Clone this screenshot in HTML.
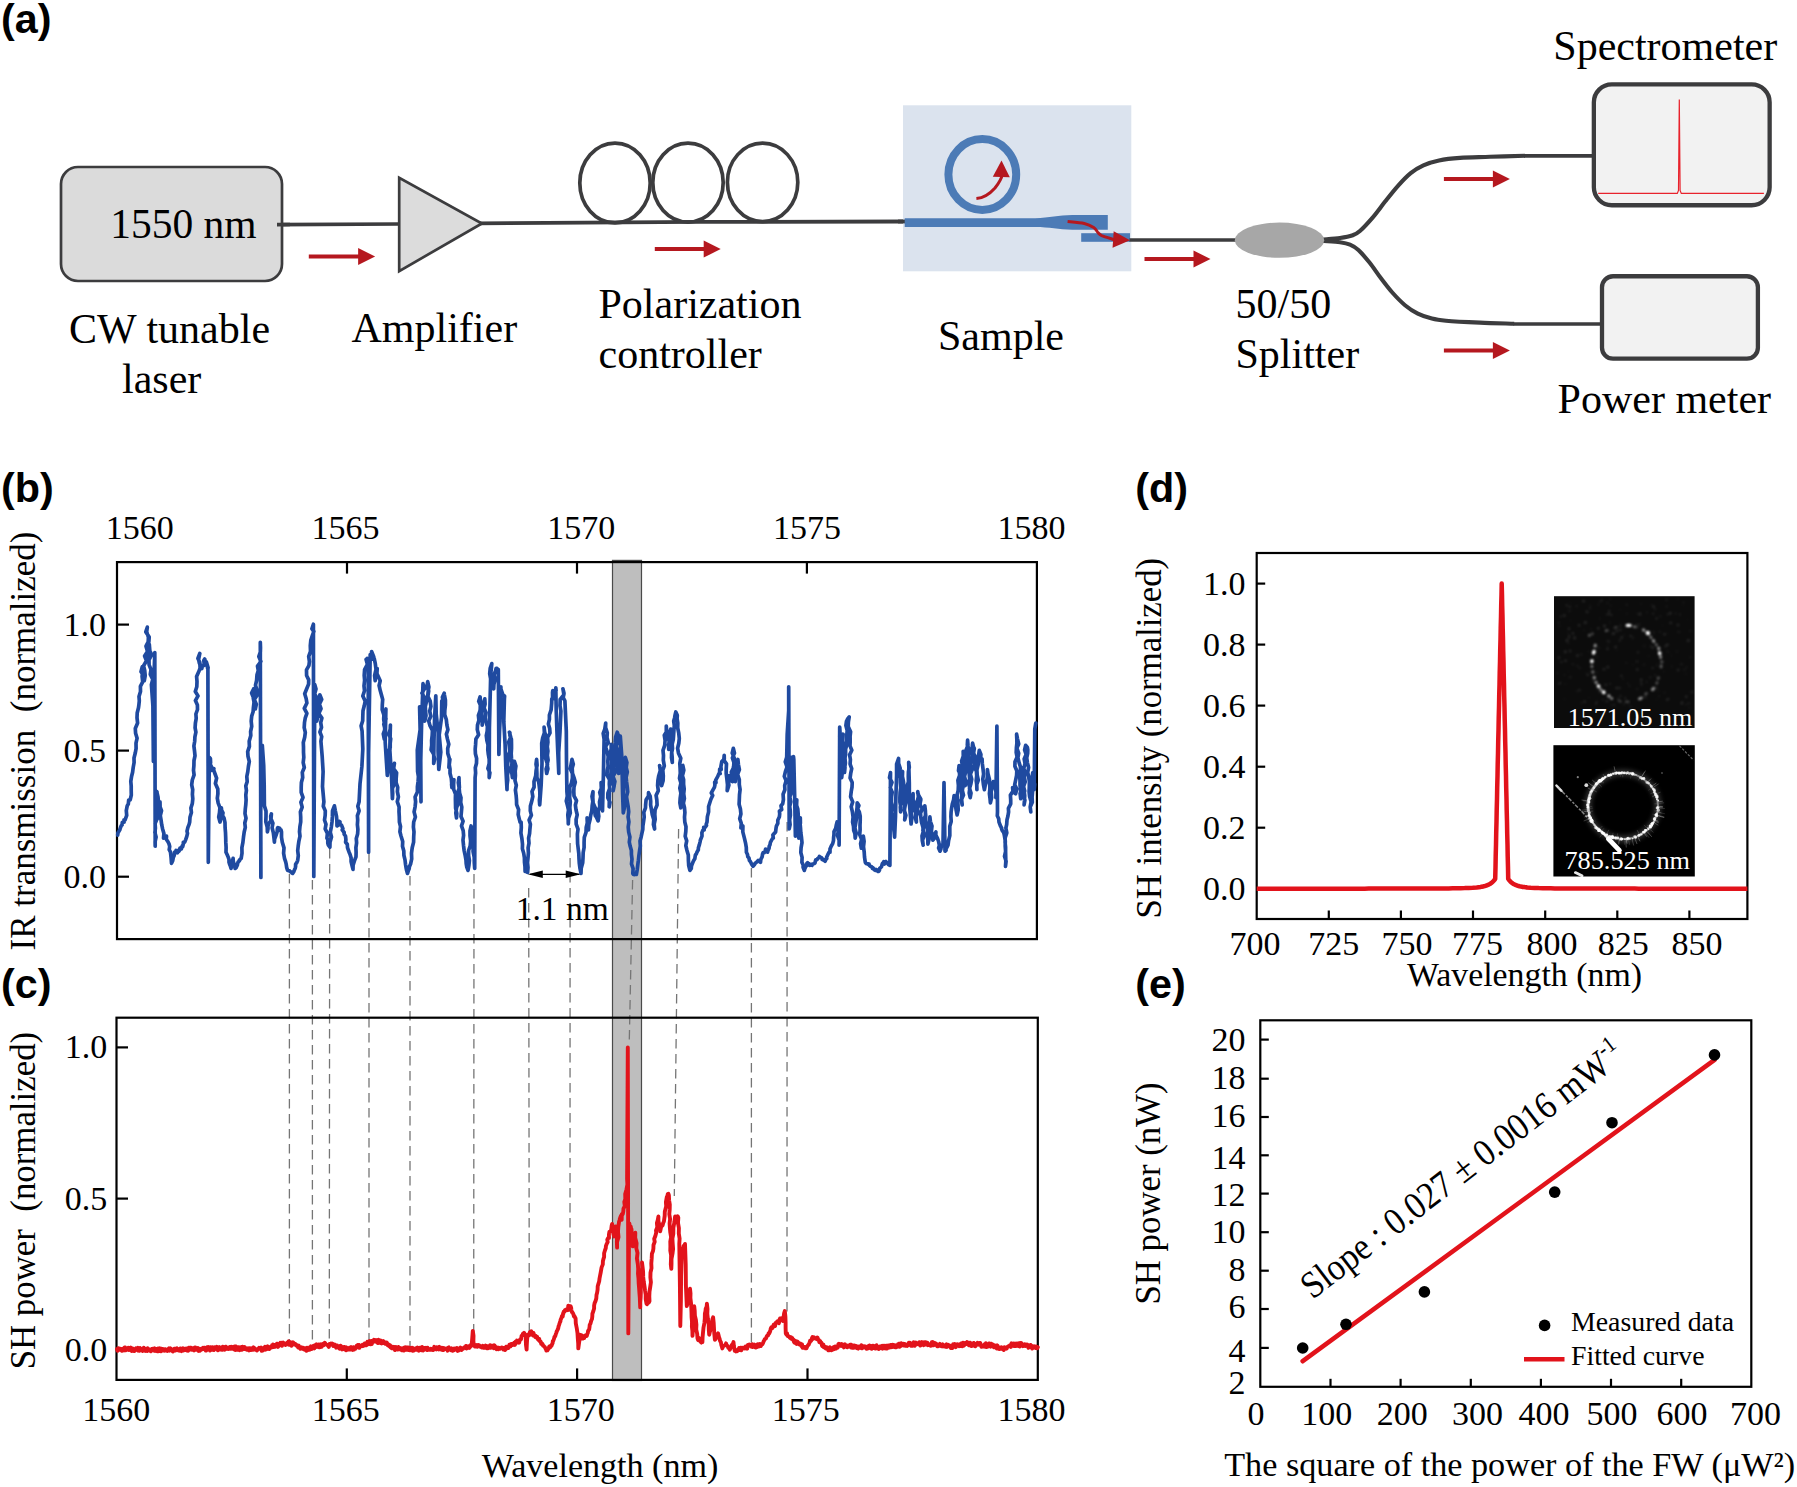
<!DOCTYPE html>
<html><head><meta charset="utf-8"><title>Figure</title>
<style>html,body{margin:0;padding:0;background:#fff}svg{display:block}</style>
</head><body>
<svg width="1797" height="1487" viewBox="0 0 1797 1487">
<rect width="1797" height="1487" fill="#fff"/>
<text x="1.0" y="32.8" font-size="41.3" font-family="Liberation Sans, sans-serif" text-anchor="start" fill="#000" font-weight="bold">(a)</text>
<text x="1.0" y="501.7" font-size="41.3" font-family="Liberation Sans, sans-serif" text-anchor="start" fill="#000" font-weight="bold">(b)</text>
<text x="1.0" y="998" font-size="41.3" font-family="Liberation Sans, sans-serif" text-anchor="start" fill="#000" font-weight="bold">(c)</text>
<text x="1135.3" y="501.7" font-size="41.3" font-family="Liberation Sans, sans-serif" text-anchor="start" fill="#000" font-weight="bold">(d)</text>
<text x="1135.3" y="998" font-size="41.3" font-family="Liberation Sans, sans-serif" text-anchor="start" fill="#000" font-weight="bold">(e)</text>
<path d="M278,224.6 L400,224" stroke="#3c3c3e" stroke-width="3.6" fill="none"/>
<path d="M478,223.4 L700,221.9 L905.5,221.5" stroke="#3c3c3e" stroke-width="3.8" fill="none"/>
<rect x="61" y="167" width="221" height="114" rx="17" ry="17" fill="#dbdbdb" stroke="#3c3c3e" stroke-width="2.7"/>
<path d="M277,224.6 L290,224.5" stroke="#3c3c3e" stroke-width="3.6" fill="none"/>
<text x="183.4" y="238" font-size="41.5" font-family="Liberation Serif, serif" text-anchor="middle" fill="#000" >1550 nm</text>
<text x="69" y="342.5" font-size="42" font-family="Liberation Serif, serif" text-anchor="start" fill="#000" >CW tunable</text>
<text x="122" y="392.5" font-size="42" font-family="Liberation Serif, serif" text-anchor="start" fill="#000" >laser</text>
<path d="M308.8,256.5 H359.1" stroke="#b5181f" stroke-width="4" fill="none"/>
<path d="M375.1,256.5 L358.1,248.0 L358.1,265.0 Z" fill="#b5181f"/>
<path d="M399.2,177.9 L399.2,271.1 L481.9,223.5 Z" fill="#dcdcdc" stroke="#3c3c3e" stroke-width="2.7" stroke-linejoin="miter"/>
<text x="351.5" y="341.5" font-size="42" font-family="Liberation Serif, serif" text-anchor="start" fill="#000" >Amplifier</text>
<ellipse cx="615" cy="183" rx="35.2" ry="39.9" fill="none" stroke="#3c3c3e" stroke-width="3.7"/>
<ellipse cx="688" cy="182.6" rx="35.2" ry="39.5" fill="none" stroke="#3c3c3e" stroke-width="3.7"/>
<ellipse cx="762.6" cy="182.35" rx="35.2" ry="39.2" fill="none" stroke="#3c3c3e" stroke-width="3.7"/>
<path d="M654.8,249.1 H704.7" stroke="#b5181f" stroke-width="4" fill="none"/>
<path d="M720.7,249.1 L703.7,240.6 L703.7,257.6 Z" fill="#b5181f"/>
<text x="598.5" y="317.5" font-size="42" font-family="Liberation Serif, serif" text-anchor="start" fill="#000" >Polarization</text>
<text x="598.5" y="368" font-size="42" font-family="Liberation Serif, serif" text-anchor="start" fill="#000" >controller</text>
<rect x="903" y="105.3" width="228.3" height="166" fill="#dbe3ee"/>
<path d="M898,221.5 L905.5,221.5" stroke="#3c3c3e" stroke-width="3.8" fill="none"/>
<ellipse cx="982.3" cy="174.5" rx="33.9" ry="35.4" fill="none" stroke="#4c7bb6" stroke-width="8"/>
<path d="M904.7,218.2 H1035 C1050,218.2 1058,215.1 1072.3,215.1 H1107.8 V229.8 H1072.3 C1058,229.8 1050,227.1 1035,227.1 H904.7 Z" fill="#4c7bb6"/>
<rect x="1081.2" y="233.2" width="48.8" height="8.6" fill="#4c7bb6"/>
<path d="M976.4,198.6 C984,198 991,192.5 995,188 C999,183 1001.5,179 1002.4,174" stroke="#b5181f" stroke-width="3" fill="none"/>
<path d="M1001.5,160.4 L992.8,176.8 L1009.8,177.2 Z" fill="#b5181f"/>
<path d="M1067.6,221.5 C1070.4,221.8 1079.9,222.5 1084.3,223.5 C1088.7,224.5 1091.5,226.1 1093.7,227.5 C1095.9,228.9 1096.4,230.8 1097.7,232.2 C1099.0,233.5 1098.9,234.3 1101.7,235.6 C1104.5,236.8 1112.4,239.0 1114.5,239.7" stroke="#b5181f" stroke-width="3" fill="none"/>
<path d="M1130,240.2 L1113.7,231.3 L1112.6,247.8 Z" fill="#b5181f"/>
<text x="938" y="350" font-size="42" font-family="Liberation Serif, serif" text-anchor="start" fill="#000" >Sample</text>
<path d="M1129.5,240 H1240" stroke="#3c3c3e" stroke-width="3.7" fill="none"/>
<path d="M1144.5,259 H1194.5" stroke="#b5181f" stroke-width="4" fill="none"/>
<path d="M1210.5,259 L1193.5,250.5 L1193.5,267.5 Z" fill="#b5181f"/>
<path d="M1322.0,239.6 C1325.0,239.3 1334.9,238.7 1340.0,238.0 C1345.1,237.3 1349.5,236.4 1352.8,235.2 C1356.1,234.0 1356.6,233.9 1359.9,231.0 C1363.2,228.1 1368.4,222.5 1372.6,217.6 C1376.8,212.7 1381.1,206.6 1385.3,201.3 C1389.5,196.0 1393.8,190.5 1398.0,185.8 C1402.2,181.1 1406.5,176.5 1410.7,173.1 C1414.9,169.7 1418.7,167.4 1423.4,165.3 C1428.1,163.2 1432.9,161.6 1439.0,160.4 C1445.1,159.2 1451.5,158.5 1460.0,157.9 C1468.5,157.3 1479.2,157.2 1490.0,156.8 C1500.8,156.5 1519.2,156.0 1525.0,155.8" stroke="#3c3c3e" stroke-width="4.1" fill="none"/>
<path d="M1322.0,240.8 C1325.0,241.1 1335.3,241.7 1340.0,242.3 C1344.7,243.0 1346.9,243.4 1350.0,244.7 C1353.1,246.0 1355.1,247.1 1358.4,250.1 C1361.7,253.1 1365.9,258.1 1369.7,262.8 C1373.5,267.5 1377.2,273.4 1381.0,278.3 C1384.8,283.2 1388.3,288.0 1392.3,292.5 C1396.3,297.0 1400.8,301.7 1405.0,305.2 C1409.2,308.7 1413.3,311.4 1417.8,313.6 C1422.3,315.8 1427.2,317.4 1431.9,318.6 C1436.6,319.8 1438.0,320.0 1446.0,320.7 C1454.0,321.4 1468.6,322.1 1480.0,322.6 C1491.4,323.1 1508.5,323.5 1514.2,323.7" stroke="#3c3c3e" stroke-width="4.1" fill="none"/>
<path d="M1524,155.8 H1593" stroke="#3c3c3e" stroke-width="3.7" fill="none"/>
<path d="M1513.5,324 H1601" stroke="#3c3c3e" stroke-width="3.7" fill="none"/>
<ellipse cx="1279.5" cy="240.2" rx="44.7" ry="17.6" fill="#a7a7a7"/>
<text x="1235.5" y="318.3" font-size="42" font-family="Liberation Serif, serif" text-anchor="start" fill="#000" >50/50</text>
<text x="1235.5" y="367.5" font-size="42" font-family="Liberation Serif, serif" text-anchor="start" fill="#000" >Splitter</text>
<path d="M1443.9,179 H1493.9" stroke="#b5181f" stroke-width="4" fill="none"/>
<path d="M1509.9,179 L1492.9,170.5 L1492.9,187.5 Z" fill="#b5181f"/>
<path d="M1443.9,350.5 H1493.9" stroke="#b5181f" stroke-width="4" fill="none"/>
<path d="M1509.9,350.5 L1492.9,342.0 L1492.9,359.0 Z" fill="#b5181f"/>
<rect x="1593.85" y="84.35" width="175.8" height="120.9" rx="18" ry="18" fill="#f2f2f2" stroke="#3c3c3e" stroke-width="4.3"/>
<path d="M1598.2,193.4 H1677.3 L1678.5,190.5 L1679.3,99.4 L1680.1,190.5 L1681.3,193.4 H1763.9" stroke="#e8222c" stroke-width="1.2" fill="none"/>
<text x="1553.3" y="59.8" font-size="42" font-family="Liberation Serif, serif" text-anchor="start" fill="#000" >Spectrometer</text>
<rect x="1602" y="276.25" width="155.9" height="82.4" rx="11" ry="11" fill="#f2f2f2" stroke="#3c3c3e" stroke-width="4.3"/>
<text x="1557.6" y="412.7" font-size="42" font-family="Liberation Serif, serif" text-anchor="start" fill="#000" >Power meter</text>
<path d="M289.4,874 L289.4,1343" stroke="#757575" stroke-width="1.3" stroke-dasharray="9.5,5.5" fill="none"/>
<path d="M312.4,880 L312.4,1345" stroke="#757575" stroke-width="1.3" stroke-dasharray="9.5,5.5" fill="none"/>
<path d="M329.7,834 L329.3,1345" stroke="#757575" stroke-width="1.3" stroke-dasharray="9.5,5.5" fill="none"/>
<path d="M369,838 L369,1341" stroke="#757575" stroke-width="1.3" stroke-dasharray="9.5,5.5" fill="none"/>
<path d="M410,876 L410,1347" stroke="#757575" stroke-width="1.3" stroke-dasharray="9.5,5.5" fill="none"/>
<path d="M474,874 L473.7,1338" stroke="#757575" stroke-width="1.3" stroke-dasharray="9.5,5.5" fill="none"/>
<path d="M528.7,888 L529.3,1336" stroke="#757575" stroke-width="1.3" stroke-dasharray="9.5,5.5" fill="none"/>
<path d="M570.1,828 L570,1312" stroke="#757575" stroke-width="1.3" stroke-dasharray="9.5,5.5" fill="none"/>
<path d="M678.6,829 L674.3,1196" stroke="#757575" stroke-width="1.3" stroke-dasharray="9.5,5.5" fill="none"/>
<path d="M751.4,868 L751.4,1345" stroke="#757575" stroke-width="1.3" stroke-dasharray="9.5,5.5" fill="none"/>
<path d="M787.1,822 L787,1312" stroke="#757575" stroke-width="1.3" stroke-dasharray="9.5,5.5" fill="none"/>
<rect x="612.5" y="560.4" width="29" height="820.1" fill="#bebebe" stroke="#4a4a4a" stroke-width="1.2"/>
<path d="M632.6,880 L629.2,1045" stroke="#757575" stroke-width="1.3" stroke-dasharray="9.5,5.5" fill="none"/>
<rect x="117.0" y="562.1" width="919.9" height="377.0" fill="none" stroke="#000" stroke-width="2.2"/>
<path d="M347.0,562.1 v11.5" stroke="#000" stroke-width="2.2"/>
<path d="M577.0,562.1 v11.5" stroke="#000" stroke-width="2.2"/>
<path d="M806.9,562.1 v11.5" stroke="#000" stroke-width="2.2"/>
<path d="M117.0,624.6 h12" stroke="#000" stroke-width="2.2"/>
<text x="106" y="635.6" font-size="34" font-family="Liberation Serif, serif" text-anchor="end" fill="#000" >1.0</text>
<path d="M117.0,750.6 h12" stroke="#000" stroke-width="2.2"/>
<text x="106" y="761.6" font-size="34" font-family="Liberation Serif, serif" text-anchor="end" fill="#000" >0.5</text>
<path d="M117.0,876.7 h12" stroke="#000" stroke-width="2.2"/>
<text x="106" y="887.7" font-size="34" font-family="Liberation Serif, serif" text-anchor="end" fill="#000" >0.0</text>
<text x="139.79999999999998" y="539.4" font-size="34" font-family="Liberation Serif, serif" text-anchor="middle" fill="#000" >1560</text>
<text x="345.5" y="539.4" font-size="34" font-family="Liberation Serif, serif" text-anchor="middle" fill="#000" >1565</text>
<text x="581.2" y="539.4" font-size="34" font-family="Liberation Serif, serif" text-anchor="middle" fill="#000" >1570</text>
<text x="806.9000000000001" y="539.4" font-size="34" font-family="Liberation Serif, serif" text-anchor="middle" fill="#000" >1575</text>
<text x="1031.4" y="539.4" font-size="34" font-family="Liberation Serif, serif" text-anchor="middle" fill="#000" >1580</text>
<text transform="translate(35,741) rotate(-90)" font-size="35.3" font-family="Liberation Serif, serif" text-anchor="middle" xml:space="preserve" style="white-space:pre" textLength="419" lengthAdjust="spacingAndGlyphs">IR transmission  (normalized)</text>
<path d="M117.7,835.1 L117.9,833.0 L118.5,832.0 L119.7,830.1 L120.6,827.3 L121.3,825.5 L122.1,825.0 L122.3,822.3 L124.1,822.2 L124.0,819.9 L125.1,819.9 L126.7,815.4 L126.3,810.6 L127.2,805.8 L127.1,806.0 L128.3,804.1 L128.7,800.0 L130.2,799.8 L131.3,795.0 L131.2,790.3 L131.2,786.0 L130.8,781.4 L131.6,776.3 L132.6,772.3 L133.2,767.5 L134.1,762.5 L134.0,758.0 L135.2,753.3 L136.1,748.5 L136.0,743.1 L137.1,738.2 L135.6,733.3 L135.3,728.5 L137.6,723.0 L137.0,717.8 L137.2,713.0 L138.5,707.8 L138.8,705.6 L139.3,700.9 L139.0,696.5 L140.5,691.4 L140.4,686.3 L142.7,681.8 L142.1,676.3 L142.6,670.8 L142.3,666.6 L141.0,671.7 L144.5,676.8 L144.3,680.7 L145.2,675.7 L144.7,670.5 L143.6,665.8 L146.5,660.8 L144.6,656.0 L147.5,651.4 L146.0,646.2 L148.2,641.9 L148.4,637.3 L146.7,631.8 L147.3,627.2 L145.8,631.9 L149.2,637.0 L148.9,641.3 L148.0,646.1 L149.1,651.1 L148.5,655.5 L148.3,660.5 L148.9,655.0 L149.8,650.3 L149.3,644.4 L149.1,649.5 L151.7,654.7 L149.0,659.9 L149.1,664.9 L151.0,669.5 L150.3,674.3 L152.8,679.3 L151.4,684.7 L153.2,710.2 L154.1,735.8 L153.4,761.4 L152.9,706.8 L154.8,652.5 L155.2,846.2 L155.1,841.6 L156.1,837.0 L154.9,832.6 L155.4,828.0 L155.1,823.4 L157.0,819.0 L156.1,814.4 L155.4,809.8 L155.9,805.3 L155.8,800.8 L157.7,796.1 L156.8,791.7 L158.0,796.9 L158.5,802.2 L156.7,807.4 L157.7,812.8 L158.4,817.9 L158.7,812.4 L160.1,806.9 L160.0,801.8 L159.9,806.3 L161.5,810.7 L160.3,815.6 L161.1,820.2 L161.7,824.7 L162.6,828.9 L163.9,833.5 L163.5,838.1 L164.1,835.6 L165.1,836.1 L165.7,838.6 L166.5,836.1 L166.3,839.3 L168.1,842.0 L169.0,843.8 L169.7,846.5 L169.2,849.7 L170.5,852.2 L171.1,857.9 L171.5,863.3 L172.7,860.7 L173.3,857.4 L174.2,855.4 L174.6,852.2 L175.3,852.9 L176.1,850.4 L176.8,850.7 L177.4,852.8 L178.3,850.4 L178.8,851.3 L179.6,850.2 L179.9,848.2 L181.4,848.8 L182.2,845.9 L182.7,846.7 L183.3,844.1 L183.3,842.4 L184.7,842.1 L185.6,839.8 L186.8,836.4 L187.5,833.4 L187.0,831.1 L187.9,827.4 L189.1,824.4 L189.7,822.0 L190.0,817.2 L191.4,812.5 L190.9,808.0 L192.3,803.6 L192.8,798.8 L192.4,794.3 L192.7,789.7 L191.7,784.8 L192.3,780.0 L194.1,774.9 L193.5,770.2 L193.9,765.6 L194.0,760.5 L195.0,755.8 L194.5,750.7 L193.9,746.0 L194.7,741.2 L194.9,736.8 L195.9,732.2 L195.1,727.8 L195.4,723.1 L196.2,718.5 L195.9,714.0 L197.5,709.5 L197.4,705.0 L195.4,700.6 L198.0,695.9 L195.3,691.5 L196.8,686.8 L197.0,681.4 L196.6,676.6 L198.7,671.8 L200.1,668.2 L199.8,662.4 L197.9,658.5 L199.8,653.5 L198.6,659.5 L199.3,662.9 L201.8,668.6 L202.4,665.4 L204.4,665.5 L203.8,660.5 L204.7,659.0 L205.7,663.4 L206.4,662.0 L208.1,667.8 L207.4,667.7 L207.9,668.6 L208.3,862.3 L209.3,757.4 L210.4,758.5 L210.6,762.8 L210.0,763.8 L211.9,767.5 L211.6,770.4 L213.9,768.6 L213.6,769.9 L214.9,773.5 L216.6,778.2 L215.4,783.5 L217.8,789.1 L217.9,793.7 L217.3,798.2 L218.2,803.2 L219.9,807.6 L219.5,812.6 L218.7,817.0 L220.0,822.0 L221.1,817.3 L221.7,812.2 L221.4,807.8 L221.3,809.6 L223.0,812.8 L222.5,815.5 L224.0,817.9 L225.0,822.7 L225.1,827.7 L225.5,832.5 L225.7,837.4 L225.8,842.4 L226.1,847.4 L226.0,852.2 L227.2,854.7 L228.2,857.1 L229.0,859.5 L229.0,862.3 L229.7,864.5 L230.4,866.1 L231.1,868.4 L231.2,865.2 L232.3,861.8 L233.1,858.3 L233.3,861.6 L234.4,864.9 L235.1,868.4 L236.3,867.5 L236.8,865.9 L237.3,865.3 L237.6,863.7 L238.1,862.0 L239.4,860.9 L239.4,860.1 L240.9,858.7 L241.2,858.3 L242.0,853.2 L241.9,847.7 L242.9,842.4 L243.5,837.1 L244.2,832.0 L245.3,827.4 L244.8,823.0 L246.0,818.2 L245.0,813.6 L245.3,808.9 L245.8,804.5 L246.1,799.8 L245.8,795.1 L246.4,790.6 L245.8,785.9 L247.2,781.6 L246.8,776.5 L247.8,771.6 L248.4,766.6 L249.3,761.5 L248.0,756.3 L247.7,751.6 L249.4,746.4 L249.2,741.2 L250.8,735.6 L250.6,731.7 L251.7,726.4 L251.2,721.1 L251.7,716.1 L253.1,711.8 L253.4,707.6 L254.0,702.7 L253.7,698.2 L251.6,693.1 L253.7,688.8 L254.6,693.3 L253.3,698.4 L254.4,704.0 L255.3,709.0 L256.3,704.3 L254.3,699.4 L257.3,695.0 L256.9,689.8 L255.5,685.2 L256.6,680.5 L257.0,674.8 L258.3,670.6 L257.5,666.2 L260.9,661.5 L258.8,656.5 L260.4,651.8 L260.5,647.5 L260.3,642.4 L260.9,877.4 L260.7,811.4 L262.3,745.3 L263.7,765.3 L264.2,785.7 L264.4,805.8 L266.0,811.1 L266.0,816.0 L265.8,821.7 L267.2,826.9 L267.4,832.0 L268.0,829.0 L268.0,825.9 L268.8,823.5 L270.9,820.6 L270.7,816.2 L271.4,813.9 L271.0,818.8 L272.9,823.3 L272.1,827.8 L273.3,832.5 L273.9,837.2 L274.4,842.1 L274.6,839.1 L276.0,835.4 L277.1,832.0 L277.5,828.0 L277.8,827.6 L279.3,829.3 L279.5,828.0 L280.4,830.5 L281.0,829.9 L281.5,832.0 L281.5,837.2 L282.3,842.3 L284.0,847.9 L283.6,853.2 L284.5,858.3 L285.6,861.6 L286.2,864.2 L286.7,867.7 L287.6,870.4 L288.3,870.5 L289.2,870.8 L289.6,870.9 L290.3,871.7 L291.2,872.0 L292.0,873.0 L292.6,873.4 L293.9,871.4 L294.4,870.0 L295.3,867.9 L295.6,866.4 L295.6,864.3 L296.9,862.4 L297.7,860.3 L298.3,855.6 L297.7,850.6 L298.2,846.1 L298.9,841.1 L300.0,836.2 L299.5,831.7 L299.9,826.8 L300.7,822.0 L300.7,817.0 L300.4,812.0 L302.2,807.1 L300.9,802.2 L303.0,797.4 L301.2,792.3 L301.2,787.3 L301.4,782.4 L302.7,777.6 L302.3,772.4 L304.3,767.5 L303.2,762.6 L303.8,757.3 L303.5,752.3 L303.5,747.0 L303.3,742.5 L304.7,737.2 L305.3,732.4 L304.2,727.7 L304.5,722.5 L305.3,717.8 L306.9,713.3 L304.3,708.4 L306.9,703.0 L306.2,698.7 L304.7,693.7 L306.7,688.8 L308.6,684.1 L308.7,679.9 L306.6,675.5 L306.5,669.9 L308.9,665.7 L309.4,661.6 L308.7,656.5 L310.5,651.5 L310.3,645.6 L310.8,640.4 L312.6,634.8 L313.9,631.4 L311.9,628.8 L313.4,624.2 L313.8,876.4 L314.8,684.7 L316.0,688.9 L314.6,694.0 L317.1,698.0 L315.5,702.9 L317.0,707.3 L318.0,712.1 L316.7,716.4 L316.8,721.1 L317.9,716.6 L317.9,711.2 L317.8,704.8 L320.0,700.9 L319.8,694.8 L321.7,699.4 L319.4,704.1 L321.0,708.7 L318.8,713.5 L321.9,718.0 L320.7,722.6 L321.5,727.4 L319.9,732.0 L321.7,736.6 L320.9,741.2 L322.2,756.6 L323.1,771.7 L322.5,786.5 L323.9,801.8 L323.3,806.2 L325.3,810.9 L325.2,815.2 L324.5,820.0 L326.0,824.3 L325.2,828.9 L327.4,833.4 L326.9,838.1 L327.8,839.7 L327.8,843.2 L328.4,845.2 L329.9,847.2 L330.0,842.3 L331.5,837.0 L330.3,832.2 L331.3,827.1 L332.0,822.0 L332.4,816.4 L332.5,810.8 L334.4,805.8 L335.3,810.6 L336.5,816.3 L336.9,821.3 L337.0,826.0 L338.2,824.5 L338.4,825.2 L339.2,821.3 L340.0,822.0 L339.9,823.7 L341.6,825.4 L342.9,828.7 L342.2,829.9 L344.2,832.5 L344.1,834.1 L345.5,836.0 L345.9,839.8 L345.6,842.2 L347.3,844.2 L347.5,847.6 L348.1,849.4 L349.1,852.2 L350.0,854.2 L351.1,857.9 L351.1,861.5 L352.1,865.8 L353.0,869.4 L353.1,865.3 L354.5,860.6 L356.0,856.8 L356.1,852.2 L355.9,847.6 L356.6,843.0 L356.3,838.6 L357.6,834.0 L357.9,829.4 L357.4,824.7 L357.7,820.0 L357.4,815.6 L359.1,810.8 L357.8,806.2 L359.1,801.8 L360.0,783.9 L361.9,766.4 L362.8,749.0 L362.1,731.2 L361.1,725.9 L362.7,720.7 L362.8,716.2 L363.0,710.7 L364.2,706.0 L365.2,701.1 L362.8,696.0 L364.5,690.8 L364.0,685.9 L364.6,680.4 L364.2,675.4 L364.6,669.7 L367.4,664.4 L366.1,659.5 L367.0,661.2 L367.1,658.4 L368.2,660.5 L368.6,852.2 L368.6,753.4 L370.2,654.5 L371.4,655.6 L371.6,651.5 L373.7,656.6 L371.7,654.8 L372.0,659.1 L374.2,658.5 L375.3,663.7 L376.0,669.3 L374.6,675.6 L375.2,680.7 L375.4,677.9 L376.4,673.7 L377.2,668.6 L376.9,673.6 L380.2,680.8 L379.1,685.5 L380.3,690.8 L381.4,694.8 L382.7,699.4 L382.3,704.9 L382.2,709.6 L383.9,714.9 L383.7,719.2 L384.5,724.7 L384.7,729.3 L383.9,734.6 L384.3,739.2 L383.3,733.9 L385.0,729.1 L383.8,724.2 L386.0,718.8 L384.9,713.9 L385.9,709.0 L385.2,742.2 L387.3,775.5 L387.8,770.8 L387.7,766.3 L389.5,762.0 L387.6,757.1 L387.8,752.8 L390.2,747.7 L390.2,743.4 L390.7,738.8 L388.7,734.2 L390.2,729.3 L390.4,725.1 L389.8,749.7 L391.4,774.1 L392.4,798.7 L392.7,793.6 L392.4,788.5 L394.3,783.6 L393.5,778.4 L395.0,773.7 L393.1,768.3 L394.4,763.4 L393.6,768.7 L396.6,772.8 L396.2,778.0 L396.1,782.7 L397.7,787.3 L397.4,791.7 L398.4,796.9 L397.3,801.7 L399.1,807.0 L399.0,811.7 L399.3,816.9 L399.4,822.0 L400.5,826.5 L399.9,831.8 L401.1,836.2 L402.7,841.5 L402.5,846.2 L403.8,850.9 L403.9,855.3 L405.0,859.9 L405.5,864.3 L406.0,867.3 L406.6,870.3 L407.5,873.4 L408.2,871.1 L409.2,868.5 L409.4,866.6 L410.5,864.3 L411.7,858.9 L411.5,853.2 L412.2,847.7 L413.6,842.1 L413.7,837.0 L414.0,831.9 L413.4,827.0 L413.7,822.0 L415.4,817.0 L414.1,811.9 L415.1,806.8 L415.6,801.8 L415.1,797.0 L417.4,791.9 L417.4,786.8 L418.1,781.4 L418.4,776.5 L417.6,771.5 L417.3,750.1 L420.3,728.6 L419.6,706.9 L420.7,754.3 L421.0,801.8 L420.7,762.5 L421.6,723.2 L423.0,683.7 L424.6,688.6 L421.9,693.1 L424.5,697.5 L424.5,702.4 L425.2,706.8 L422.8,711.5 L423.1,716.5 L424.7,721.1 L426.0,715.8 L425.5,710.8 L425.3,706.5 L426.4,701.9 L427.9,696.6 L428.7,691.0 L426.9,686.8 L427.7,681.7 L428.9,686.9 L428.1,692.0 L427.7,696.2 L430.2,701.2 L430.9,706.4 L429.7,711.0 L430.8,716.2 L428.7,720.9 L430.0,725.7 L432.4,730.4 L432.2,735.1 L431.6,740.5 L431.7,745.3 L431.1,749.8 L433.5,753.9 L434.6,759.1 L433.7,763.4 L434.0,740.7 L434.6,718.2 L435.8,695.8 L436.2,714.1 L438.2,732.7 L438.1,751.1 L438.8,769.5 L440.8,752.1 L439.2,735.0 L441.5,717.8 L441.8,700.9 L443.3,701.8 L442.4,697.2 L444.2,693.2 L444.4,694.8 L445.4,700.0 L445.4,705.1 L444.8,710.5 L444.7,714.7 L446.3,719.5 L446.9,725.1 L447.9,729.7 L446.4,734.2 L447.4,738.9 L448.8,744.2 L447.7,748.5 L447.8,753.4 L449.3,758.2 L449.2,762.7 L448.9,767.5 L449.9,759.4 L449.1,763.8 L450.0,769.0 L450.0,773.2 L451.3,778.4 L451.7,783.1 L451.9,787.7 L451.6,784.3 L452.1,781.7 L453.9,779.6 L453.6,784.3 L453.7,789.3 L455.5,794.1 L455.4,798.8 L455.5,803.7 L455.6,808.2 L456.8,813.4 L456.5,817.9 L455.8,813.0 L456.6,807.7 L458.4,802.9 L457.3,797.9 L457.6,792.9 L459.4,787.5 L459.1,782.7 L459.0,777.6 L458.3,782.8 L459.1,787.6 L459.6,792.9 L461.0,797.7 L460.7,802.4 L461.8,807.2 L461.4,811.8 L461.0,816.4 L463.1,821.2 L461.5,825.9 L463.2,830.7 L463.6,835.3 L463.0,840.1 L463.5,845.3 L464.1,850.3 L465.1,855.0 L466.0,860.3 L466.2,863.6 L466.8,867.2 L468.0,870.4 L468.9,865.4 L469.4,860.6 L468.6,855.5 L468.6,850.5 L470.2,845.8 L470.6,840.8 L470.0,835.9 L470.0,830.8 L471.1,826.0 L472.1,831.2 L472.2,836.0 L473.0,840.9 L473.1,846.2 L473.1,851.7 L474.2,857.2 L474.3,862.9 L474.7,868.4 L475.1,777.6 L475.6,773.0 L475.3,767.8 L476.5,763.2 L476.6,758.4 L475.4,753.7 L475.2,749.2 L475.6,744.4 L475.9,739.1 L478.6,734.8 L477.3,729.6 L477.5,725.1 L478.9,720.4 L478.4,715.3 L480.0,710.8 L480.8,705.9 L478.7,701.2 L480.1,696.9 L480.5,701.8 L480.3,705.8 L480.2,710.5 L480.5,715.9 L482.3,720.5 L482.2,725.1 L482.3,719.7 L481.8,715.2 L482.1,710.0 L483.4,703.7 L484.8,698.9 L485.1,704.0 L484.1,708.0 L486.0,712.4 L485.3,717.4 L486.0,722.2 L487.4,726.4 L487.2,731.2 L486.3,735.6 L486.9,740.5 L488.0,744.9 L487.8,749.9 L488.3,754.2 L489.2,759.2 L489.2,763.5 L487.9,768.4 L489.9,772.8 L489.2,777.6 L489.4,728.1 L490.6,678.7 L489.7,673.7 L490.2,668.3 L491.8,663.6 L491.3,669.2 L490.8,673.1 L493.4,678.2 L492.2,684.3 L493.7,688.8 L493.9,684.7 L495.2,679.1 L494.0,674.4 L495.7,670.6 L496.1,668.4 L497.1,668.4 L497.6,673.2 L498.3,669.6 L498.9,754.4 L499.5,731.9 L500.6,709.1 L500.9,686.8 L500.8,688.7 L502.5,693.5 L502.1,694.4 L504.6,696.1 L504.4,698.9 L503.8,721.7 L505.1,744.4 L505.8,767.1 L507.0,789.7 L507.1,784.9 L507.7,780.0 L507.4,775.1 L508.4,770.6 L507.3,765.8 L508.1,760.9 L508.1,756.2 L509.9,751.4 L509.3,746.4 L508.7,741.9 L510.7,736.9 L509.4,732.2 L509.9,732.8 L509.9,735.6 L511.4,739.2 L511.5,744.2 L511.5,748.7 L511.2,753.6 L511.5,758.4 L512.0,763.3 L511.0,768.0 L511.8,772.7 L512.4,777.6 L513.8,772.0 L515.1,766.3 L514.4,761.4 L515.9,766.1 L515.2,770.9 L515.4,775.5 L515.0,780.5 L516.3,785.3 L515.4,790.0 L516.1,795.2 L516.5,799.8 L516.6,804.5 L518.6,809.7 L518.2,814.5 L519.5,819.9 L520.1,822.2 L521.1,822.0 L521.3,827.5 L520.9,833.0 L521.9,838.6 L522.5,844.1 L522.4,848.8 L523.7,853.2 L524.4,857.8 L524.5,862.4 L525.0,866.9 L525.1,871.4 L526.0,871.5 L526.8,871.9 L527.6,872.4 L528.0,867.5 L527.5,862.6 L528.0,857.7 L528.4,852.8 L528.1,847.9 L529.0,843.1 L528.6,838.1 L529.6,833.4 L529.9,829.2 L530.4,824.3 L529.1,820.0 L531.4,815.1 L530.3,810.9 L530.4,806.1 L531.6,801.8 L532.8,796.5 L532.0,791.5 L534.1,787.1 L534.0,781.6 L535.7,775.7 L536.1,770.6 L537.1,765.2 L536.6,759.4 L536.0,764.2 L536.7,768.3 L536.9,773.0 L536.9,777.5 L538.7,782.1 L539.3,786.5 L539.8,791.2 L539.9,795.7 L539.4,800.3 L539.7,804.8 L541.2,784.3 L542.0,763.6 L541.7,743.3 L542.7,737.8 L544.4,732.8 L544.1,727.1 L544.6,731.7 L546.0,736.7 L544.5,741.1 L544.8,745.3 L544.2,750.4 L544.3,754.9 L546.0,759.6 L547.5,764.5 L546.1,769.0 L546.7,773.5 L547.9,768.9 L547.1,764.5 L548.1,760.0 L547.4,755.4 L547.9,751.0 L547.3,746.7 L547.9,742.2 L547.6,737.5 L550.0,733.0 L549.7,728.6 L548.4,723.9 L549.4,719.4 L549.4,715.0 L551.1,709.9 L551.7,703.2 L551.8,698.9 L552.6,699.2 L552.5,692.6 L552.8,690.5 L554.8,693.9 L556.1,690.5 L555.8,687.8 L556.2,709.4 L556.9,730.7 L557.8,752.2 L558.8,773.5 L558.7,752.7 L560.0,731.9 L560.9,711.0 L560.0,705.8 L560.2,699.4 L563.9,694.7 L562.9,688.8 L564.0,693.2 L563.2,697.7 L564.9,700.9 L566.3,731.2 L566.5,761.4 L566.9,791.7 L567.3,796.2 L566.3,801.0 L567.4,805.4 L568.5,810.0 L567.8,814.8 L568.2,819.5 L568.3,824.0 L568.6,818.1 L570.3,812.9 L569.8,807.7 L570.3,801.8 L569.6,797.0 L570.0,792.4 L569.7,787.5 L571.5,782.8 L572.4,778.1 L572.4,773.4 L570.3,768.7 L571.1,764.2 L572.0,759.4 L573.3,764.2 L572.2,768.0 L572.5,773.3 L574.0,777.6 L575.3,782.3 L574.0,786.9 L573.8,791.4 L574.0,795.9 L576.5,800.7 L575.4,805.0 L576.0,809.8 L577.2,814.8 L576.1,819.5 L576.2,824.2 L578.0,829.2 L577.4,834.0 L577.5,838.9 L577.6,843.6 L578.2,848.6 L578.8,853.5 L579.0,858.3 L579.3,863.3 L580.0,868.5 L581.0,873.4 L581.2,868.2 L582.7,862.8 L583.0,857.8 L583.2,852.5 L584.1,847.5 L584.1,842.1 L584.3,837.4 L586.0,832.4 L586.2,827.5 L587.3,822.8 L587.1,817.9 L588.2,824.2 L588.5,830.0 L588.8,824.5 L590.0,819.9 L590.7,815.2 L591.8,810.8 L592.2,805.4 L592.8,801.4 L592.0,796.5 L593.0,791.7 L592.8,797.5 L593.1,802.9 L595.4,808.2 L595.0,813.9 L595.3,815.8 L596.1,816.6 L597.8,820.3 L598.1,820.9 L598.8,816.2 L598.2,811.3 L599.8,806.4 L599.5,802.0 L600.7,796.7 L599.7,792.4 L601.7,787.5 L601.1,782.6 L601.3,787.5 L601.4,792.0 L602.5,796.6 L601.6,801.3 L602.1,806.1 L602.5,810.9 L603.4,775.0 L604.1,739.2 L603.2,733.4 L604.8,729.1 L605.7,723.1 L605.6,727.6 L607.3,732.9 L607.0,737.5 L608.2,742.3 L605.5,746.7 L607.3,752.1 L608.2,756.7 L607.8,761.4 L608.1,766.1 L607.3,770.6 L607.0,775.1 L609.5,779.5 L609.3,784.0 L609.7,788.5 L607.9,793.2 L607.8,797.7 L610.0,802.4 L609.2,806.8 L609.6,786.0 L611.8,765.0 L611.2,744.3 L611.2,748.8 L610.3,753.6 L612.1,758.3 L612.9,762.8 L610.9,767.7 L613.6,772.0 L613.0,776.6 L611.8,781.6 L614.1,786.2 L613.2,790.7 L614.0,786.2 L614.9,781.4 L613.0,776.4 L615.4,772.2 L613.9,767.5 L615.4,762.7 L614.5,757.8 L615.2,753.3 L614.6,747.8 L615.2,742.7 L615.6,737.1 L617.2,732.2 L618.9,736.8 L618.5,741.5 L616.4,745.8 L616.6,750.4 L616.9,755.3 L618.3,759.6 L617.2,764.2 L618.1,769.1 L618.7,773.5 L618.4,768.8 L619.0,764.3 L618.3,759.6 L618.2,754.7 L619.8,750.3 L621.0,745.3 L619.8,740.7 L620.3,736.2 L621.7,755.2 L622.2,774.7 L622.6,793.6 L623.3,812.9 L624.3,808.2 L624.7,803.5 L624.7,798.9 L623.3,794.4 L623.6,789.7 L623.6,785.0 L625.7,780.5 L625.7,776.1 L624.2,771.1 L623.8,766.8 L624.6,762.1 L625.3,757.4 L626.9,762.6 L626.2,767.4 L627.3,772.0 L626.1,777.3 L626.6,781.9 L627.3,787.2 L627.7,791.9 L626.5,796.7 L627.3,801.8 L628.2,806.9 L628.7,811.7 L628.1,816.9 L628.9,821.9 L628.2,827.0 L628.7,832.1 L629.9,837.0 L629.3,842.1 L630.2,846.3 L631.4,850.4 L631.4,854.2 L632.0,859.1 L631.5,863.9 L633.1,868.6 L632.8,873.4 L633.5,874.5 L634.3,874.6 L634.9,873.3 L635.7,873.9 L636.4,874.4 L637.2,869.7 L637.8,864.8 L638.4,860.3 L638.9,855.5 L639.6,850.6 L640.3,846.0 L640.0,841.1 L641.1,837.2 L641.9,833.4 L642.8,829.3 L642.9,826.0 L643.5,821.9 L644.2,816.9 L643.8,812.4 L645.5,807.8 L645.6,804.8 L646.1,799.8 L648.5,796.1 L648.5,792.7 L650.2,796.3 L650.7,801.5 L650.6,804.9 L651.5,809.8 L652.3,814.7 L653.8,819.6 L653.4,824.6 L654.6,829.0 L654.2,824.0 L655.2,819.4 L654.8,814.4 L655.1,809.7 L657.1,805.0 L656.8,799.9 L656.1,795.4 L658.3,790.7 L657.6,785.6 L657.9,780.5 L658.7,775.9 L660.3,770.4 L659.6,765.5 L660.5,770.8 L661.0,775.3 L659.9,780.5 L661.6,785.6 L663.1,780.8 L663.3,775.8 L662.8,770.1 L664.3,765.8 L663.3,760.2 L663.5,755.5 L663.0,750.4 L664.7,745.3 L665.1,740.4 L664.3,735.2 L666.7,731.4 L666.3,726.1 L666.3,731.4 L666.0,735.8 L669.1,740.5 L668.9,744.9 L668.7,749.3 L668.5,744.5 L671.0,739.3 L669.4,734.3 L670.7,729.1 L671.1,733.9 L671.8,738.9 L671.0,743.3 L671.4,747.9 L671.8,753.2 L672.2,757.5 L672.3,762.4 L671.5,757.8 L671.6,753.1 L672.5,748.6 L672.2,744.0 L673.3,739.3 L673.6,735.0 L673.9,730.3 L674.3,725.5 L673.7,721.1 L674.6,717.9 L675.0,715.4 L675.8,712.0 L677.3,715.2 L677.1,718.7 L677.8,723.1 L677.7,728.0 L678.7,732.8 L679.3,738.5 L678.8,743.3 L677.6,748.2 L678.5,753.2 L680.8,758.2 L679.8,763.4 L680.1,768.5 L680.3,773.2 L679.5,778.2 L680.9,783.1 L679.8,788.2 L680.9,793.0 L680.2,797.9 L679.9,802.9 L680.8,807.8 L681.1,803.2 L681.8,798.5 L681.4,793.8 L682.2,789.1 L681.0,784.5 L680.9,779.8 L682.6,775.0 L683.8,770.2 L682.8,765.5 L683.2,770.2 L682.2,775.0 L683.6,779.6 L683.6,784.3 L684.2,789.1 L683.7,793.7 L684.4,798.4 L683.4,803.2 L684.5,807.8 L684.9,812.5 L684.5,817.2 L684.8,822.0 L686.0,826.7 L685.8,831.5 L685.2,836.2 L686.7,840.9 L685.8,845.5 L686.9,850.2 L688.3,855.0 L688.4,860.3 L688.7,865.5 L689.9,870.4 L691.3,868.4 L691.4,866.4 L692.0,864.5 L692.9,862.3 L693.7,860.5 L694.8,858.8 L695.0,857.5 L695.4,855.0 L696.4,853.8 L696.9,852.2 L698.3,849.8 L698.4,847.8 L699.4,844.6 L700.0,842.1 L700.5,839.7 L702.0,836.1 L701.9,832.6 L703.0,830.0 L704.2,829.9 L703.7,827.4 L705.3,827.1 L706.5,825.5 L706.2,824.4 L707.0,822.0 L707.4,816.6 L708.6,811.9 L708.6,806.5 L710.1,801.8 L711.0,799.0 L712.7,795.4 L711.3,793.0 L713.1,789.7 L714.4,787.4 L714.9,785.1 L714.7,782.1 L716.0,782.6 L715.7,780.1 L717.1,777.6 L717.9,776.2 L718.8,773.8 L720.2,773.7 L719.6,772.5 L719.7,769.1 L721.2,769.5 L720.9,766.6 L721.8,761.5 L724.3,759.0 L724.2,755.4 L723.8,760.0 L726.5,763.9 L726.2,769.3 L726.2,773.5 L726.9,779.4 L727.5,784.8 L727.2,790.7 L728.9,785.1 L728.2,780.7 L729.2,775.5 L730.2,776.8 L729.9,776.6 L730.6,780.4 L732.3,781.6 L732.7,776.8 L731.3,772.0 L733.6,767.5 L733.9,762.5 L732.4,757.9 L734.5,753.1 L733.3,748.3 L732.2,753.1 L734.1,757.6 L734.9,762.7 L733.4,767.2 L733.9,772.1 L735.8,776.7 L735.3,781.6 L735.1,775.9 L736.0,771.1 L736.2,765.0 L737.9,759.4 L738.4,764.5 L739.4,769.5 L737.6,774.4 L739.3,779.5 L739.3,784.5 L740.1,789.6 L739.5,794.8 L739.3,799.8 L739.1,804.3 L740.4,809.0 L740.9,814.0 L739.7,818.6 L741.3,823.4 L740.9,828.0 L741.8,826.7 L742.7,826.1 L742.9,826.0 L742.8,831.9 L744.4,838.1 L745.5,842.8 L746.3,847.5 L746.4,852.2 L747.5,854.5 L747.8,856.8 L749.0,858.1 L749.4,860.3 L750.4,861.7 L751.3,863.3 L751.5,863.9 L752.0,864.8 L753.0,866.3 L753.9,865.3 L754.4,864.8 L754.9,863.6 L756.3,862.3 L756.9,861.8 L757.5,861.3 L758.2,860.4 L759.0,861.4 L759.8,861.4 L760.5,862.3 L760.8,859.5 L762.2,856.6 L762.5,854.2 L763.2,852.5 L764.4,852.6 L765.2,851.3 L765.5,849.2 L766.5,849.4 L766.7,850.2 L767.6,852.2 L768.0,850.4 L769.1,848.1 L769.2,846.4 L770.0,844.7 L770.4,842.3 L771.6,840.1 L772.9,837.9 L773.3,838.0 L772.9,835.0 L773.8,833.9 L774.8,832.9 L775.6,832.0 L776.0,828.4 L776.4,826.2 L777.8,823.4 L777.8,820.2 L779.4,816.8 L779.7,813.9 L779.4,811.0 L781.7,809.6 L781.0,805.8 L782.7,803.8 L783.4,799.6 L783.1,794.3 L784.9,789.8 L784.7,785.6 L786.1,780.7 L784.3,776.4 L785.4,771.7 L787.0,767.0 L785.3,761.9 L786.7,757.4 L787.2,734.0 L788.7,710.5 L788.7,686.8 L789.2,829.0 L790.1,824.6 L789.6,820.0 L790.4,815.2 L790.3,810.8 L789.7,806.5 L790.8,801.8 L789.8,796.9 L791.7,792.0 L791.2,786.9 L791.6,782.1 L790.7,777.1 L791.1,772.1 L790.7,767.2 L790.7,762.3 L791.8,757.4 L792.2,759.7 L793.5,756.6 L793.8,759.4 L794.7,797.7 L795.4,836.1 L795.3,831.6 L796.5,827.0 L796.1,822.4 L796.8,817.9 L796.8,813.4 L796.8,808.7 L796.6,804.3 L796.8,799.8 L796.3,804.7 L797.8,809.2 L798.2,814.1 L798.3,818.8 L797.7,823.6 L799.1,828.5 L798.6,833.3 L798.8,838.1 L798.6,833.0 L798.6,827.8 L800.4,823.2 L800.3,817.9 L800.0,822.8 L800.5,827.9 L800.8,832.6 L801.5,837.6 L802.0,842.6 L801.1,847.6 L800.8,852.5 L802.1,857.4 L801.9,862.3 L803.2,864.8 L803.1,867.3 L804.3,870.4 L804.7,868.9 L805.8,866.5 L806.8,865.4 L806.9,863.3 L807.6,862.7 L808.3,864.8 L809.1,863.7 L809.8,865.4 L810.5,864.4 L811.2,864.7 L812.0,865.3 L812.2,864.0 L813.4,863.9 L814.1,863.6 L815.0,863.0 L815.3,861.4 L815.8,859.9 L816.3,860.0 L817.0,859.5 L818.0,858.3 L818.8,857.8 L819.4,856.4 L820.2,857.3 L821.0,857.3 L822.1,858.5 L822.1,859.4 L823.1,860.0 L823.6,859.4 L824.5,860.7 L825.1,861.3 L825.7,859.6 L826.8,858.5 L826.6,857.3 L827.7,854.9 L828.2,853.8 L829.1,852.2 L830.0,852.2 L830.0,848.9 L831.3,846.0 L832.7,843.6 L833.5,840.5 L833.6,837.6 L834.0,834.1 L834.0,831.5 L835.7,828.3 L836.4,824.7 L837.1,822.0 L837.5,826.8 L838.2,831.3 L837.6,835.8 L839.2,840.3 L839.1,845.2 L839.7,727.1 L840.0,731.8 L839.6,736.1 L840.0,740.8 L840.3,745.4 L840.9,750.1 L841.7,754.5 L840.8,759.4 L840.2,763.6 L842.4,768.3 L842.2,773.0 L841.7,777.6 L842.0,772.7 L842.2,767.8 L842.2,763.0 L841.1,758.3 L841.3,753.4 L843.7,748.6 L843.5,743.8 L841.8,739.1 L843.1,734.2 L842.6,739.2 L842.5,743.6 L844.6,748.5 L843.6,753.6 L845.0,758.3 L845.4,763.0 L844.7,767.6 L844.5,772.5 L845.0,767.6 L844.3,763.0 L844.9,758.6 L845.6,754.0 L845.6,749.3 L846.7,744.7 L846.6,739.6 L846.8,735.0 L847.2,730.5 L845.9,725.5 L846.5,721.1 L848.3,721.9 L846.8,720.8 L847.6,718.9 L849.2,717.0 L848.4,721.9 L848.2,726.5 L850.6,731.7 L850.1,736.2 L850.2,741.2 L850.0,745.9 L851.8,750.3 L849.6,754.9 L850.4,759.5 L850.1,764.1 L851.7,768.7 L850.7,773.4 L850.1,778.0 L852.2,782.6 L852.0,787.1 L851.2,791.7 L850.6,796.7 L852.7,801.9 L851.2,806.7 L852.4,811.9 L853.1,816.9 L852.6,822.0 L853.5,826.3 L853.7,830.4 L854.9,833.7 L855.2,838.1 L856.2,833.0 L854.9,828.0 L855.8,822.8 L856.5,817.9 L856.4,812.8 L857.1,807.6 L857.2,802.8 L858.9,805.5 L857.6,808.8 L859.3,811.9 L860.2,816.2 L860.2,821.0 L860.0,825.4 L860.1,829.9 L859.7,834.6 L861.6,839.2 L860.6,843.7 L861.3,848.2 L862.4,844.4 L862.9,840.2 L863.3,836.1 L864.1,841.3 L863.5,846.7 L864.2,852.0 L864.5,857.0 L865.3,862.3 L866.1,863.4 L866.9,863.7 L867.6,863.9 L868.3,864.3 L869.1,864.1 L869.3,865.3 L870.5,866.3 L871.2,866.5 L872.0,867.4 L872.4,868.4 L873.0,867.8 L873.9,869.3 L874.7,870.0 L875.4,870.4 L876.1,869.5 L876.7,869.9 L877.4,870.9 L878.1,871.5 L878.8,871.4 L879.4,870.4 L879.8,868.2 L881.5,866.9 L882.0,864.9 L882.5,863.3 L883.2,862.9 L883.8,861.7 L884.5,864.0 L885.1,861.9 L885.8,861.5 L886.5,862.3 L887.4,863.4 L888.1,863.3 L888.3,864.4 L889.4,865.1 L889.9,865.3 L890.5,772.5 L889.5,777.6 L892.0,782.4 L890.2,787.5 L892.2,792.2 L891.5,797.1 L891.4,802.3 L892.6,807.3 L891.6,812.0 L892.5,817.1 L892.6,822.0 L893.5,827.1 L894.1,831.7 L894.6,837.1 L895.5,816.5 L895.9,796.0 L896.6,775.5 L896.6,769.9 L896.6,764.1 L898.6,758.4 L898.6,763.4 L900.2,768.3 L898.6,773.0 L900.4,777.8 L900.4,782.6 L900.7,787.7 L900.1,792.5 L899.9,797.3 L899.9,802.2 L900.8,807.0 L900.6,811.9 L900.3,806.9 L901.7,801.9 L900.9,796.8 L902.8,791.8 L901.3,786.6 L903.3,781.6 L901.1,776.4 L902.6,771.5 L902.4,776.3 L903.4,781.3 L903.9,786.2 L904.4,791.0 L904.5,795.6 L903.8,800.4 L904.8,805.4 L904.5,810.4 L905.1,815.0 L904.7,819.9 L905.9,815.3 L904.3,810.3 L905.1,806.0 L906.0,801.4 L906.0,796.5 L906.7,791.7 L906.9,787.0 L908.4,781.8 L908.3,776.8 L908.4,771.9 L909.3,767.2 L908.7,762.4 L909.3,782.8 L909.4,803.4 L911.1,824.0 L911.7,819.1 L911.3,813.8 L912.0,808.7 L911.8,803.7 L913.1,798.9 L913.1,793.7 L912.5,798.2 L914.1,802.9 L914.0,807.5 L915.8,812.8 L915.2,817.4 L916.4,822.0 L916.2,816.8 L917.7,811.9 L917.5,806.7 L917.2,801.8 L918.4,796.8 L917.8,791.7 L917.7,792.8 L918.7,795.3 L920.7,798.8 L920.8,799.8 L919.9,804.4 L922.3,808.8 L920.5,813.2 L920.9,817.7 L921.5,822.3 L922.9,826.9 L923.3,831.6 L922.0,836.0 L922.3,840.7 L923.2,845.2 L922.6,840.3 L924.2,835.3 L922.9,830.4 L923.5,825.5 L923.4,820.5 L925.5,815.5 L925.4,810.7 L924.8,805.8 L925.2,810.4 L925.7,815.2 L925.6,820.0 L925.9,824.8 L927.5,829.8 L927.1,834.5 L927.8,839.5 L927.9,844.1 L929.0,839.5 L929.0,835.2 L928.3,830.4 L928.4,825.9 L929.6,821.2 L929.9,816.9 L930.4,821.5 L932.0,826.1 L931.4,831.0 L932.2,835.5 L932.9,840.1 L934.4,838.4 L934.8,836.8 L934.9,833.9 L935.9,832.0 L935.8,835.1 L937.5,838.3 L938.6,841.5 L939.4,845.3 L938.6,848.1 L940.0,851.2 L940.9,849.0 L941.1,847.5 L941.7,845.4 L943.0,844.1 L944.0,782.6 L945.0,851.2 L946.1,850.3 L945.9,849.0 L947.0,847.1 L948.0,845.2 L948.6,840.5 L949.8,835.6 L949.8,830.6 L949.8,826.3 L951.2,821.4 L950.9,816.5 L951.1,811.9 L951.6,808.2 L952.3,804.1 L953.6,799.8 L954.1,795.7 L955.2,800.7 L955.5,805.5 L956.1,809.8 L957.1,814.9 L958.2,809.9 L958.0,805.0 L957.7,800.1 L957.1,795.0 L958.2,790.3 L958.4,785.2 L957.9,780.4 L959.6,775.2 L959.3,770.4 L959.1,765.5 L958.5,770.6 L961.1,775.6 L959.4,780.1 L961.6,785.4 L961.6,789.8 L961.7,794.7 L961.7,800.1 L962.2,804.8 L961.3,799.9 L963.5,795.1 L962.3,790.3 L963.3,785.4 L961.7,780.5 L962.4,775.7 L962.1,770.8 L962.5,765.9 L961.6,761.0 L963.3,756.1 L963.2,751.3 L964.4,755.9 L964.4,761.3 L964.7,765.9 L965.4,771.1 L963.7,775.9 L965.1,780.6 L965.2,785.6 L965.7,781.2 L964.5,776.5 L965.6,772.0 L965.6,767.6 L966.8,762.9 L966.2,758.6 L967.1,753.8 L966.2,749.6 L968.0,745.1 L967.6,740.2 L967.3,745.0 L969.3,749.7 L968.6,754.7 L968.5,759.4 L968.0,764.4 L968.7,768.8 L969.2,773.8 L969.6,778.7 L968.6,783.4 L969.8,788.1 L969.2,793.0 L970.2,797.7 L971.0,793.1 L969.5,788.4 L970.9,783.8 L971.7,779.1 L970.4,774.2 L972.2,769.5 L970.4,764.8 L971.9,760.4 L972.4,755.4 L972.0,751.1 L972.3,746.3 L972.6,743.1 L973.5,746.9 L974.3,748.3 L973.6,753.3 L975.9,757.8 L975.1,762.0 L974.1,766.4 L976.4,771.1 L976.7,775.8 L976.2,780.7 L976.8,785.1 L976.9,789.7 L976.7,784.5 L978.3,780.1 L977.2,775.1 L976.9,769.8 L978.1,765.1 L978.7,760.1 L978.6,755.3 L979.3,750.3 L980.9,754.4 L980.7,758.0 L982.1,759.0 L982.3,763.4 L983.0,768.7 L983.6,774.0 L982.8,779.0 L983.4,784.3 L984.4,789.7 L985.3,785.0 L987.0,779.5 L987.6,774.5 L987.4,769.5 L988.0,773.8 L989.4,779.1 L989.7,784.1 L989.9,788.6 L989.4,793.6 L990.0,798.3 L990.4,802.8 L991.6,797.7 L991.2,791.9 L991.8,787.3 L993.4,781.6 L995.0,787.5 L996.0,791.8 L995.9,797.7 L996.9,726.1 L997.5,811.9 L997.3,815.8 L998.7,818.8 L999.0,822.1 L1000.5,826.0 L1001.7,828.1 L1001.5,828.4 L1002.0,830.1 L1003.6,832.3 L1004.2,834.6 L1004.5,836.1 L1005.3,841.1 L1005.2,846.2 L1005.6,851.3 L1004.5,856.3 L1006.1,861.3 L1005.5,866.3 L1005.8,861.5 L1005.7,856.7 L1005.6,852.0 L1005.6,847.2 L1005.1,842.4 L1005.2,837.6 L1006.8,832.8 L1005.9,828.0 L1006.7,824.4 L1007.0,819.7 L1007.9,816.2 L1008.6,811.9 L1008.4,808.4 L1010.7,803.8 L1010.7,799.9 L1010.4,795.1 L1012.9,791.4 L1012.6,787.7 L1013.9,790.6 L1015.0,792.4 L1014.0,792.6 L1015.6,793.7 L1016.8,789.1 L1014.7,784.6 L1015.7,779.9 L1016.6,775.3 L1016.8,770.8 L1014.9,766.2 L1015.0,761.7 L1017.1,757.1 L1016.2,752.5 L1016.4,747.8 L1016.9,743.3 L1016.8,738.7 L1016.6,734.2 L1017.5,738.8 L1018.7,744.0 L1016.9,748.1 L1018.7,753.3 L1017.9,757.8 L1019.1,762.6 L1020.4,766.8 L1020.5,771.7 L1019.6,776.0 L1020.0,780.4 L1020.0,785.0 L1020.6,789.7 L1020.7,794.1 L1020.7,798.7 L1020.1,793.4 L1022.3,788.2 L1022.7,783.1 L1023.2,777.6 L1023.1,772.7 L1022.7,767.5 L1022.4,772.2 L1022.4,776.7 L1023.8,781.3 L1023.7,786.0 L1024.1,790.8 L1024.7,795.6 L1024.5,800.2 L1024.1,804.8 L1024.9,800.2 L1023.3,795.7 L1024.7,791.0 L1023.5,786.6 L1025.2,781.9 L1024.4,777.4 L1024.9,772.8 L1023.8,768.3 L1025.0,763.7 L1024.2,759.0 L1026.1,754.4 L1024.6,749.9 L1025.7,745.3 L1027.4,747.5 L1027.8,749.8 L1027.7,753.3 L1026.7,757.9 L1027.5,763.1 L1028.6,767.5 L1027.7,772.3 L1028.7,777.0 L1029.4,781.6 L1029.3,786.5 L1029.1,791.8 L1029.6,796.6 L1031.1,801.7 L1030.2,807.0 L1030.8,811.9 L1030.2,807.0 L1032.3,802.2 L1032.1,797.3 L1032.5,792.3 L1031.9,787.3 L1033.0,782.5 L1032.0,777.6 L1032.8,772.5 L1033.2,778.6 L1034.7,784.3 L1034.2,789.7 L1034.8,729.1 L1035.8,723.1" stroke="#1f4aa0" stroke-width="3.7" fill="none" stroke-linejoin="round" stroke-linecap="round"/>
<path d="M530,874.3 H579" stroke="#000" stroke-width="1.3"/>
<path d="M527.8,874.3 l15,-3.7 v7.4 Z M580.7,874.3 l-15,-3.7 v7.4 Z" fill="#000"/>
<text x="515.7" y="920.1" font-size="33.5" font-family="Liberation Serif, serif" text-anchor="start" fill="#000" >1.1 nm</text>
<rect x="116.5" y="1017.7" width="921.3" height="362.2" fill="none" stroke="#000" stroke-width="2.2"/>
<path d="M346.8,1379.9 v-11.5" stroke="#000" stroke-width="2.2"/>
<path d="M577.1,1379.9 v-11.5" stroke="#000" stroke-width="2.2"/>
<path d="M807.5,1379.9 v-11.5" stroke="#000" stroke-width="2.2"/>
<path d="M116.5,1047.4 h11.5" stroke="#000" stroke-width="2.2"/>
<text x="107.3" y="1058.4" font-size="34" font-family="Liberation Serif, serif" text-anchor="end" fill="#000" >1.0</text>
<path d="M116.5,1198.6 h11.5" stroke="#000" stroke-width="2.2"/>
<text x="107.3" y="1209.6" font-size="34" font-family="Liberation Serif, serif" text-anchor="end" fill="#000" >0.5</text>
<path d="M116.5,1349.8 h11.5" stroke="#000" stroke-width="2.2"/>
<text x="107.3" y="1360.8" font-size="34" font-family="Liberation Serif, serif" text-anchor="end" fill="#000" >0.0</text>
<text x="116.2" y="1420.5" font-size="34" font-family="Liberation Serif, serif" text-anchor="middle" fill="#000" >1560</text>
<text x="345.7" y="1420.5" font-size="34" font-family="Liberation Serif, serif" text-anchor="middle" fill="#000" >1565</text>
<text x="580.7" y="1420.5" font-size="34" font-family="Liberation Serif, serif" text-anchor="middle" fill="#000" >1570</text>
<text x="805.7" y="1420.5" font-size="34" font-family="Liberation Serif, serif" text-anchor="middle" fill="#000" >1575</text>
<text x="1031.5" y="1420.5" font-size="34" font-family="Liberation Serif, serif" text-anchor="middle" fill="#000" >1580</text>
<text x="600" y="1476.5" font-size="34" font-family="Liberation Serif, serif" text-anchor="middle" fill="#000" textLength="236.5" lengthAdjust="spacingAndGlyphs" >Wavelength (nm)</text>
<text transform="translate(34.8,1200.6) rotate(-90)" font-size="35.3" font-family="Liberation Serif, serif" text-anchor="middle" xml:space="preserve" style="white-space:pre" textLength="337.5" lengthAdjust="spacingAndGlyphs">SH power  (normalized)</text>
<path d="M117.0,1349.1 L117.5,1350.8 L118.0,1348.2 L118.6,1348.2 L119.1,1349.0 L119.7,1349.1 L120.2,1349.8 L120.8,1348.8 L121.3,1350.2 L121.9,1350.8 L122.4,1348.9 L123.0,1349.8 L123.5,1348.6 L124.1,1350.4 L124.6,1347.4 L125.2,1347.5 L125.7,1350.4 L126.3,1349.6 L126.8,1348.6 L127.4,1348.7 L127.9,1349.7 L128.5,1347.8 L129.0,1350.0 L129.5,1349.9 L130.1,1347.9 L130.6,1347.6 L131.2,1348.1 L131.7,1351.0 L132.3,1348.3 L132.8,1349.7 L133.4,1348.9 L133.9,1351.0 L134.5,1351.1 L135.0,1350.5 L135.6,1349.4 L136.1,1348.2 L136.7,1349.2 L137.2,1348.5 L137.8,1347.9 L138.3,1350.7 L138.9,1348.9 L139.4,1350.8 L140.0,1347.9 L140.5,1349.2 L141.0,1348.9 L141.6,1349.9 L142.1,1349.5 L142.7,1350.9 L143.2,1348.9 L143.8,1347.8 L144.3,1350.1 L144.9,1349.3 L145.4,1350.9 L146.0,1350.4 L146.5,1348.8 L147.1,1351.1 L147.6,1348.2 L148.2,1349.8 L148.7,1349.1 L149.3,1350.0 L149.8,1350.5 L150.4,1349.7 L150.9,1351.3 L151.5,1350.6 L152.0,1349.1 L152.6,1350.3 L153.1,1348.7 L153.6,1349.8 L154.2,1350.6 L154.7,1348.3 L155.3,1350.9 L155.8,1350.4 L156.4,1348.9 L156.9,1348.9 L157.5,1351.3 L158.0,1348.5 L158.6,1351.2 L159.1,1349.0 L159.7,1348.2 L160.2,1349.3 L160.8,1351.3 L161.3,1348.6 L161.9,1349.5 L162.4,1350.2 L163.0,1349.0 L163.5,1350.6 L164.1,1349.9 L164.6,1350.6 L165.1,1349.2 L165.7,1349.8 L166.2,1350.2 L166.8,1350.7 L167.3,1350.9 L167.9,1349.2 L168.4,1348.9 L169.0,1348.2 L169.5,1350.7 L170.1,1349.4 L170.6,1348.4 L171.2,1350.3 L171.7,1350.3 L172.3,1350.8 L172.8,1351.4 L173.4,1349.2 L173.9,1350.9 L174.5,1348.7 L175.0,1349.9 L175.6,1350.4 L176.1,1348.5 L176.7,1348.3 L177.2,1349.8 L177.7,1349.8 L178.3,1350.4 L178.8,1349.4 L179.4,1348.9 L179.9,1350.8 L180.5,1348.5 L181.0,1350.6 L181.6,1351.1 L182.1,1350.5 L182.7,1350.2 L183.2,1348.3 L183.8,1350.4 L184.3,1348.8 L184.9,1350.0 L185.4,1348.7 L186.0,1348.5 L186.5,1350.2 L187.1,1350.6 L187.6,1350.2 L188.2,1350.7 L188.7,1347.7 L189.3,1348.1 L189.8,1347.8 L190.4,1349.6 L190.9,1347.7 L191.4,1347.9 L192.0,1349.8 L192.5,1348.7 L193.1,1348.3 L193.6,1348.2 L194.2,1350.4 L194.7,1347.5 L195.3,1347.5 L195.8,1348.9 L196.4,1349.7 L196.9,1349.5 L197.5,1349.2 L198.0,1348.1 L198.6,1350.9 L199.1,1350.8 L199.7,1350.9 L200.2,1349.0 L200.8,1348.9 L201.3,1349.8 L201.9,1348.4 L202.4,1348.6 L203.0,1347.9 L203.5,1349.0 L204.1,1347.8 L204.6,1347.8 L205.1,1349.1 L205.7,1350.6 L206.2,1350.5 L206.8,1349.7 L207.3,1347.2 L207.9,1347.0 L208.4,1349.6 L209.0,1347.9 L209.5,1347.5 L210.1,1350.5 L210.6,1347.1 L211.2,1348.2 L211.7,1349.8 L212.3,1347.2 L212.8,1347.4 L213.4,1348.5 L213.9,1350.1 L214.5,1348.5 L215.0,1347.2 L215.6,1348.8 L216.1,1347.5 L216.7,1346.8 L217.2,1349.3 L217.8,1350.3 L218.3,1349.3 L218.8,1349.6 L219.4,1347.1 L219.9,1347.4 L220.5,1347.9 L221.0,1349.6 L221.6,1348.2 L222.1,1349.8 L222.7,1346.7 L223.2,1348.8 L223.8,1348.2 L224.3,1347.2 L224.9,1349.7 L225.4,1346.8 L226.0,1346.8 L226.5,1348.0 L227.1,1348.7 L227.6,1347.9 L228.2,1349.0 L228.7,1348.0 L229.3,1348.7 L229.8,1347.1 L230.4,1348.1 L230.9,1348.8 L231.5,1346.8 L232.0,1348.5 L232.6,1347.2 L233.1,1347.2 L233.7,1349.2 L234.2,1348.7 L234.8,1346.5 L235.3,1350.0 L235.9,1346.5 L236.4,1347.3 L237.0,1347.2 L237.5,1349.9 L238.1,1349.9 L238.6,1347.1 L239.2,1349.3 L239.7,1350.1 L240.3,1347.2 L240.8,1347.2 L241.4,1347.0 L241.9,1349.9 L242.5,1346.6 L243.0,1348.7 L243.6,1348.5 L244.1,1348.9 L244.7,1347.0 L245.2,1348.7 L245.8,1348.2 L246.3,1349.5 L246.9,1349.8 L247.4,1348.5 L248.0,1349.2 L248.5,1348.4 L249.1,1350.4 L249.6,1348.2 L250.2,1349.6 L250.7,1350.0 L251.3,1348.3 L251.8,1349.7 L252.4,1349.2 L252.9,1349.8 L253.5,1347.3 L254.0,1349.6 L254.6,1348.9 L255.1,1348.6 L255.7,1349.4 L256.2,1349.8 L256.8,1350.5 L257.3,1349.8 L257.9,1349.6 L258.4,1348.7 L259.0,1347.9 L259.5,1348.8 L260.1,1348.2 L260.6,1348.5 L261.2,1347.6 L261.7,1350.9 L262.3,1349.1 L262.8,1350.5 L263.4,1350.0 L263.9,1349.6 L264.4,1347.7 L265.0,1346.7 L265.5,1349.7 L266.1,1347.6 L266.6,1349.0 L267.2,1349.0 L267.7,1346.3 L268.3,1347.0 L268.8,1347.0 L269.3,1349.0 L269.9,1347.3 L270.4,1347.2 L271.0,1346.6 L271.5,1347.5 L272.1,1345.2 L272.6,1345.8 L273.1,1344.6 L273.7,1347.1 L274.2,1344.9 L274.8,1346.7 L275.3,1346.8 L275.9,1344.8 L276.4,1345.6 L277.0,1343.7 L277.5,1344.2 L278.1,1346.9 L278.7,1345.3 L279.2,1345.2 L279.8,1343.9 L280.3,1342.9 L280.9,1343.9 L281.5,1342.8 L282.0,1345.9 L282.6,1343.1 L283.1,1342.6 L283.7,1342.9 L284.3,1344.2 L284.8,1344.2 L285.4,1344.9 L285.9,1344.3 L286.5,1344.2 L287.1,1342.7 L287.6,1344.3 L288.2,1343.7 L288.7,1341.3 L289.3,1344.9 L289.8,1344.0 L290.3,1344.2 L290.9,1342.3 L291.4,1345.7 L292.0,1344.6 L292.5,1343.1 L293.0,1342.4 L293.6,1343.0 L294.1,1344.5 L294.7,1344.3 L295.2,1343.8 L295.8,1344.5 L296.4,1345.7 L296.9,1345.1 L297.5,1345.5 L298.1,1347.4 L298.7,1345.7 L299.2,1346.6 L299.7,1347.8 L300.4,1348.8 L300.8,1348.4 L301.5,1347.3 L302.0,1348.2 L302.5,1348.6 L303.1,1347.7 L303.7,1349.2 L304.2,1348.7 L304.8,1349.8 L305.3,1348.3 L305.9,1349.0 L306.5,1350.8 L307.0,1347.6 L307.6,1349.7 L308.2,1350.0 L308.7,1349.8 L309.3,1349.9 L309.8,1347.2 L310.4,1349.3 L310.9,1346.3 L311.5,1349.1 L312.0,1348.2 L312.6,1347.1 L313.2,1346.0 L313.7,1346.4 L314.3,1348.4 L314.8,1345.3 L315.4,1346.3 L316.0,1346.8 L316.5,1344.3 L317.1,1346.9 L317.7,1344.9 L318.2,1346.2 L318.8,1344.4 L319.3,1347.3 L319.9,1346.9 L320.4,1347.0 L321.0,1344.3 L321.6,1346.8 L322.1,1344.1 L322.7,1344.8 L323.3,1343.8 L323.8,1345.2 L324.4,1344.4 L324.9,1342.8 L325.5,1343.6 L326.0,1344.5 L326.6,1344.7 L327.2,1344.7 L327.7,1345.3 L328.3,1346.2 L328.8,1346.9 L329.4,1344.0 L330.0,1344.5 L330.5,1344.7 L331.1,1343.5 L331.6,1344.2 L332.2,1343.6 L332.8,1344.7 L333.3,1346.0 L333.9,1344.5 L334.4,1344.5 L335.0,1344.7 L335.6,1346.2 L336.1,1347.7 L336.7,1346.3 L337.2,1345.5 L337.8,1346.9 L338.3,1346.4 L338.8,1347.4 L339.4,1348.7 L339.9,1348.7 L340.4,1345.6 L341.0,1346.0 L341.5,1346.8 L342.1,1349.4 L342.6,1347.5 L343.1,1349.2 L343.7,1348.6 L344.2,1346.9 L344.8,1348.9 L345.3,1349.6 L345.9,1350.3 L346.4,1347.3 L346.9,1349.2 L347.5,1349.7 L348.0,1348.3 L348.5,1349.4 L349.1,1349.5 L349.6,1347.8 L350.2,1349.6 L350.7,1349.6 L351.2,1347.1 L351.8,1349.3 L352.3,1349.0 L352.9,1349.9 L353.4,1347.2 L353.9,1349.6 L354.5,1347.5 L355.0,1349.0 L355.5,1348.3 L356.1,1347.9 L356.6,1345.8 L357.2,1345.9 L357.7,1345.1 L358.2,1346.3 L358.8,1344.9 L359.3,1347.9 L359.9,1345.6 L360.4,1345.7 L360.9,1345.7 L361.5,1345.6 L362.0,1346.1 L362.6,1344.7 L363.1,1346.0 L363.7,1345.4 L364.2,1345.5 L364.8,1343.4 L365.3,1343.6 L365.9,1345.4 L366.4,1345.3 L366.9,1344.1 L367.5,1341.8 L368.0,1344.3 L368.5,1341.6 L369.1,1341.9 L369.6,1341.0 L370.2,1341.8 L370.7,1344.4 L371.3,1340.9 L371.8,1344.0 L372.4,1341.4 L372.9,1341.2 L373.5,1341.6 L374.0,1339.8 L374.5,1340.0 L375.1,1341.6 L375.7,1341.0 L376.2,1340.1 L376.8,1342.1 L377.3,1341.3 L377.9,1343.1 L378.4,1339.7 L379.0,1342.4 L379.5,1342.6 L380.1,1343.0 L380.6,1340.4 L381.2,1340.9 L381.7,1343.4 L382.3,1341.2 L382.9,1343.1 L383.4,1341.1 L384.0,1343.0 L384.5,1342.7 L385.1,1343.6 L385.6,1342.6 L386.1,1343.9 L386.7,1342.6 L387.3,1343.6 L387.8,1345.3 L388.3,1345.6 L389.0,1344.6 L389.5,1346.5 L390.1,1345.2 L390.6,1347.5 L391.1,1347.7 L391.8,1348.3 L392.2,1347.1 L392.8,1346.7 L393.4,1348.4 L393.9,1346.9 L394.5,1348.5 L395.0,1350.1 L395.6,1348.4 L396.1,1347.1 L396.7,1348.6 L397.3,1349.4 L397.8,1349.6 L398.4,1347.0 L398.9,1348.6 L399.5,1349.3 L400.0,1348.0 L400.6,1349.5 L401.1,1348.3 L401.7,1350.3 L402.2,1349.2 L402.8,1348.6 L403.3,1348.0 L403.9,1350.6 L404.5,1347.5 L405.0,1349.3 L405.6,1347.3 L406.1,1349.9 L406.7,1347.4 L407.2,1347.5 L407.8,1347.4 L408.3,1350.0 L408.9,1347.6 L409.4,1347.8 L410.0,1350.3 L410.5,1347.9 L411.1,1349.1 L411.7,1348.8 L412.2,1347.7 L412.8,1350.8 L413.3,1348.2 L413.9,1350.5 L414.4,1348.9 L415.0,1349.4 L415.5,1348.9 L416.1,1349.8 L416.6,1347.9 L417.2,1347.5 L417.7,1348.3 L418.3,1348.0 L418.8,1350.7 L419.4,1350.2 L419.9,1347.7 L420.5,1348.3 L421.0,1348.5 L421.6,1350.2 L422.1,1347.0 L422.7,1349.2 L423.2,1350.4 L423.8,1350.0 L424.3,1347.9 L424.9,1348.3 L425.4,1348.3 L426.0,1347.7 L426.5,1348.4 L427.1,1350.1 L427.6,1347.7 L428.2,1349.8 L428.7,1349.5 L429.3,1349.8 L429.8,1349.2 L430.4,1349.8 L430.9,1348.7 L431.5,1349.7 L432.0,1349.8 L432.6,1349.9 L433.2,1350.1 L433.7,1349.1 L434.3,1346.8 L434.8,1348.6 L435.4,1347.8 L435.9,1348.4 L436.5,1349.4 L437.1,1347.3 L437.7,1347.5 L438.2,1347.7 L438.8,1349.5 L439.4,1346.8 L440.0,1348.4 L440.6,1349.3 L441.1,1348.3 L441.7,1349.6 L442.2,1347.8 L442.8,1350.0 L443.3,1350.1 L443.9,1348.0 L444.4,1349.0 L445.0,1349.1 L445.5,1348.9 L446.1,1348.6 L446.6,1349.5 L447.2,1348.5 L447.7,1350.7 L448.3,1347.7 L448.8,1347.4 L449.4,1348.9 L450.0,1348.9 L450.5,1349.3 L451.1,1350.3 L451.6,1348.3 L452.2,1350.5 L452.7,1350.8 L453.3,1349.2 L453.8,1350.3 L454.4,1348.5 L454.9,1349.6 L455.5,1348.9 L456.0,1348.3 L456.6,1349.3 L457.1,1348.0 L457.7,1350.9 L458.2,1350.1 L458.8,1350.4 L459.4,1349.8 L459.9,1348.3 L460.4,1347.6 L461.0,1348.6 L461.6,1349.9 L462.1,1348.4 L462.7,1348.5 L463.2,1348.7 L463.8,1347.8 L464.3,1347.2 L464.9,1347.7 L465.4,1347.7 L466.0,1345.9 L466.5,1348.5 L467.1,1346.6 L467.6,1347.5 L468.2,1347.8 L468.7,1346.2 L469.3,1348.0 L469.9,1347.1 L470.5,1346.6 L471.0,1344.8 L471.1,1345.1 L471.8,1343.4 L472.3,1337.3 L472.8,1330.9 L473.5,1335.8 L473.4,1341.0 L473.8,1345.9 L474.4,1344.6 L475.0,1346.6 L475.5,1345.5 L476.1,1345.2 L476.7,1345.0 L477.2,1346.8 L477.8,1345.2 L478.3,1345.0 L478.9,1345.9 L479.5,1345.5 L480.0,1346.6 L480.6,1346.8 L481.2,1346.8 L481.7,1347.4 L482.3,1347.1 L482.8,1345.8 L483.4,1347.8 L483.9,1346.6 L484.5,1346.7 L485.1,1347.6 L485.6,1345.6 L486.2,1347.1 L486.7,1348.1 L487.3,1346.2 L487.8,1348.3 L488.4,1346.4 L488.9,1346.8 L489.5,1347.5 L490.0,1345.2 L490.6,1347.8 L491.1,1346.8 L491.7,1345.8 L492.2,1346.4 L492.8,1346.7 L493.4,1345.5 L493.9,1348.3 L494.5,1345.3 L495.0,1347.1 L495.6,1346.8 L496.2,1347.0 L496.7,1349.2 L497.3,1347.7 L497.8,1347.6 L498.4,1349.2 L499.0,1347.8 L499.5,1348.0 L500.1,1348.8 L500.6,1348.2 L501.2,1347.8 L501.8,1347.4 L502.3,1347.7 L502.9,1348.2 L503.4,1349.6 L503.9,1347.9 L504.6,1349.7 L505.1,1350.0 L505.7,1348.5 L506.2,1346.7 L506.7,1347.5 L507.3,1348.2 L507.7,1346.7 L508.4,1348.0 L508.9,1346.8 L509.4,1344.7 L509.9,1344.6 L510.5,1346.3 L511.0,1343.9 L511.6,1343.9 L512.1,1344.6 L512.7,1345.0 L513.3,1343.6 L513.7,1343.6 L514.2,1342.7 L514.9,1345.0 L515.3,1343.8 L515.8,1341.6 L516.4,1342.0 L516.9,1340.6 L517.4,1342.6 L518.0,1341.5 L518.5,1341.7 L519.1,1342.6 L519.6,1340.9 L520.1,1339.5 L520.9,1339.6 L521.2,1338.5 L521.6,1335.9 L522.4,1335.3 L523.0,1333.5 L523.3,1333.4 L523.8,1334.9 L524.2,1332.8 L524.8,1334.7 L525.2,1335.6 L525.8,1335.9 L525.8,1340.5 L526.0,1345.1 L526.6,1349.6 L526.8,1344.7 L527.1,1339.6 L527.6,1334.7 L528.2,1335.7 L528.7,1334.9 L529.2,1335.2 L529.8,1332.4 L530.3,1331.7 L530.8,1332.2 L531.3,1331.3 L532.0,1333.0 L532.6,1335.0 L532.9,1335.4 L533.5,1333.0 L534.0,1334.9 L534.7,1335.4 L535.3,1337.1 L535.8,1335.9 L536.5,1337.4 L537.1,1336.7 L537.5,1339.0 L538.1,1339.3 L538.5,1339.9 L539.2,1338.9 L539.8,1341.3 L540.4,1341.8 L540.7,1341.7 L541.2,1343.8 L542.0,1343.4 L542.5,1344.0 L543.0,1345.6 L543.5,1345.6 L544.0,1346.3 L544.9,1347.2 L545.5,1348.6 L546.0,1349.2 L546.4,1350.6 L547.0,1350.3 L547.4,1350.3 L548.0,1349.4 L548.7,1347.8 L549.2,1346.7 L549.9,1346.2 L550.1,1347.5 L550.8,1345.8 L551.5,1345.8 L551.9,1344.6 L552.7,1342.9 L552.8,1341.1 L553.4,1340.5 L554.2,1338.1 L554.5,1336.8 L555.2,1336.2 L555.7,1334.4 L556.2,1333.1 L556.9,1330.9 L557.5,1329.9 L558.2,1328.4 L558.6,1326.2 L559.1,1324.9 L560.0,1322.0 L560.4,1321.5 L560.6,1319.8 L561.6,1317.6 L561.9,1316.0 L562.7,1316.5 L563.1,1313.2 L563.4,1313.5 L563.8,1311.5 L564.6,1311.5 L565.0,1310.0 L565.6,1309.8 L566.2,1309.6 L566.6,1309.3 L567.2,1310.2 L567.9,1310.0 L568.3,1305.8 L568.8,1309.2 L569.3,1306.8 L569.9,1306.1 L570.6,1306.2 L571.1,1307.6 L571.4,1310.1 L571.9,1312.1 L572.2,1312.0 L573.1,1313.5 L573.6,1314.9 L574.0,1316.4 L574.5,1316.2 L574.8,1317.0 L575.6,1318.5 L575.8,1323.3 L576.8,1328.5 L577.5,1333.3 L577.8,1338.4 L578.2,1343.4 L578.3,1348.4 L578.9,1343.9 L579.6,1339.3 L579.8,1334.7 L580.3,1336.7 L581.1,1336.5 L581.4,1335.2 L582.0,1338.5 L582.7,1338.0 L583.0,1338.4 L583.7,1337.8 L584.2,1338.0 L584.6,1335.6 L585.2,1335.8 L585.8,1335.2 L586.3,1335.4 L586.8,1335.9 L587.2,1334.2 L587.8,1333.0 L588.1,1330.9 L589.2,1329.3 L589.6,1326.5 L589.7,1324.9 L590.5,1323.5 L591.2,1320.8 L592.0,1319.0 L592.3,1316.6 L592.4,1313.7 L593.3,1311.3 L594.1,1308.4 L594.1,1305.7 L594.6,1303.1 L595.5,1301.1 L596.3,1298.4 L596.5,1295.0 L597.1,1292.7 L597.6,1289.6 L597.7,1286.2 L598.4,1283.9 L599.2,1281.2 L599.5,1278.7 L600.0,1276.0 L600.8,1272.0 L601.2,1269.6 L601.6,1267.4 L602.8,1264.4 L602.9,1261.3 L603.5,1258.7 L604.1,1257.1 L604.1,1253.2 L604.9,1250.5 L605.8,1248.0 L605.9,1246.2 L606.7,1243.9 L607.7,1242.1 L607.3,1239.6 L608.1,1238.0 L609.0,1238.0 L608.9,1234.8 L609.4,1231.8 L610.4,1231.4 L611.2,1229.8 L611.7,1225.6 L612.1,1224.0 L612.6,1226.3 L613.6,1229.9 L613.4,1233.7 L614.1,1236.4 L614.2,1233.1 L615.0,1230.1 L615.6,1226.5 L616.5,1231.9 L617.0,1237.3 L616.9,1242.1 L617.1,1247.6 L617.0,1242.2 L618.5,1237.3 L618.0,1231.8 L618.3,1226.9 L619.1,1221.5 L619.8,1219.9 L619.8,1219.0 L620.8,1216.1 L621.7,1219.8 L621.8,1214.1 L622.0,1215.0 L622.8,1214.0 L623.3,1211.4 L623.5,1208.7 L624.8,1206.0 L624.3,1202.0 L625.3,1199.1 L625.2,1194.1 L626.5,1189.4 L627.4,1184.3 L627.1,1179.2 L627.8,1047.4 L628.3,1333.4 L629.1,1226.5 L629.4,1223.4 L630.3,1229.8 L630.8,1226.6 L630.9,1229.1 L631.5,1229.0 L631.7,1234.6 L632.1,1240.5 L632.8,1246.4 L633.9,1243.2 L633.2,1240.8 L634.6,1237.4 L634.9,1236.1 L635.3,1232.7 L635.2,1237.6 L636.6,1243.2 L636.3,1248.1 L637.5,1253.0 L636.9,1258.5 L637.8,1263.8 L638.2,1268.9 L638.0,1273.6 L638.5,1278.5 L638.7,1283.3 L639.1,1288.2 L639.4,1292.7 L639.8,1297.6 L640.0,1302.4 L640.2,1307.3 L640.2,1302.4 L640.6,1297.3 L640.8,1292.4 L640.7,1287.5 L641.0,1282.4 L641.6,1277.5 L641.6,1272.6 L642.3,1267.4 L642.0,1262.5 L642.6,1267.3 L643.1,1271.8 L643.2,1276.9 L643.7,1281.4 L644.5,1286.2 L645.0,1290.3 L645.7,1294.8 L645.7,1299.1 L646.5,1303.6 L647.0,1304.2 L647.8,1301.3 L648.3,1302.9 L648.9,1302.3 L649.5,1301.1 L649.3,1296.3 L649.5,1291.6 L650.2,1287.1 L650.9,1282.3 L650.4,1277.6 L650.5,1272.7 L651.5,1268.1 L651.3,1263.3 L651.7,1258.4 L651.9,1253.8 L652.9,1251.3 L653.4,1248.6 L653.5,1245.0 L654.7,1241.9 L654.2,1238.7 L655.2,1236.4 L656.2,1232.7 L656.0,1230.4 L657.3,1227.1 L656.9,1223.0 L657.7,1220.3 L658.4,1216.5 L658.4,1221.0 L659.7,1226.4 L660.1,1231.4 L660.4,1230.4 L661.1,1226.8 L661.2,1226.7 L662.6,1225.3 L663.0,1223.7 L663.0,1223.4 L663.9,1221.5 L664.7,1215.9 L664.8,1211.7 L666.2,1206.1 L665.9,1202.2 L666.9,1196.6 L667.4,1197.2 L667.7,1194.1 L668.4,1193.8 L668.9,1195.4 L669.1,1200.2 L669.8,1204.6 L669.7,1209.4 L669.3,1214.2 L670.1,1219.0 L669.6,1223.4 L669.9,1228.0 L670.3,1232.5 L671.1,1237.1 L670.3,1241.7 L670.4,1246.1 L670.3,1250.7 L671.1,1255.1 L671.0,1259.6 L670.8,1264.3 L671.3,1268.8 L671.5,1263.8 L671.5,1259.0 L672.5,1253.7 L673.1,1248.8 L672.7,1243.6 L672.4,1238.7 L673.3,1233.9 L673.4,1227.7 L674.4,1222.2 L675.1,1216.5 L675.7,1216.8 L676.1,1219.1 L676.8,1222.3 L677.2,1217.5 L677.7,1216.2 L678.3,1217.8 L678.0,1222.9 L678.9,1228.1 L678.8,1233.5 L679.6,1238.6 L679.3,1243.9 L679.9,1285.0 L680.3,1326.0 L680.9,1301.0 L681.1,1276.2 L681.8,1251.3 L682.7,1249.4 L682.8,1248.2 L683.3,1249.4 L683.6,1246.0 L684.7,1245.8 L685.0,1243.9 L685.7,1264.6 L685.9,1285.3 L686.8,1306.1 L687.6,1303.1 L688.0,1300.1 L688.1,1296.8 L689.1,1295.0 L689.5,1291.8 L690.0,1288.7 L690.5,1293.4 L690.4,1298.0 L691.0,1302.9 L691.3,1307.6 L691.5,1312.3 L691.6,1317.0 L692.0,1321.8 L691.9,1326.5 L692.4,1331.1 L692.5,1335.9 L692.8,1331.0 L693.3,1326.0 L693.1,1321.0 L693.9,1316.0 L694.1,1311.1 L694.2,1306.1 L694.7,1310.6 L694.9,1315.6 L695.9,1320.0 L696.4,1324.6 L696.2,1329.4 L697.2,1333.9 L697.5,1338.4 L698.1,1340.0 L698.6,1340.3 L699.0,1338.0 L699.6,1339.9 L700.2,1341.1 L700.8,1342.1 L701.4,1342.6 L701.9,1340.2 L702.4,1342.1 L702.6,1337.2 L703.0,1332.7 L703.5,1327.7 L704.4,1323.0 L704.8,1318.5 L704.9,1313.5 L705.4,1311.6 L705.7,1308.9 L706.7,1306.6 L706.9,1303.6 L707.5,1308.9 L707.3,1313.8 L707.9,1319.1 L708.7,1324.4 L708.8,1329.6 L709.2,1334.7 L709.7,1332.5 L710.6,1329.4 L711.0,1327.0 L711.2,1325.1 L711.9,1322.5 L712.4,1319.4 L713.1,1317.3 L713.7,1323.0 L714.0,1328.5 L714.3,1333.9 L714.9,1339.7 L715.6,1339.1 L715.8,1337.3 L716.6,1336.2 L717.0,1335.8 L717.4,1334.5 L718.1,1333.4 L718.7,1335.8 L719.0,1337.2 L719.6,1338.7 L720.0,1340.7 L720.9,1342.3 L721.3,1344.8 L721.8,1346.4 L722.3,1348.4 L722.8,1347.0 L723.5,1345.8 L724.1,1345.7 L724.5,1345.6 L724.9,1345.1 L725.5,1344.7 L726.1,1343.4 L726.5,1345.0 L727.0,1345.5 L727.6,1345.9 L728.3,1347.8 L728.8,1347.1 L729.4,1348.7 L729.8,1349.6 L730.5,1348.1 L730.7,1347.3 L731.4,1345.9 L731.9,1344.8 L732.4,1344.3 L733.2,1343.2 L733.5,1342.1 L733.9,1346.2 L734.8,1350.8 L735.3,1349.6 L735.9,1351.5 L736.4,1350.5 L736.9,1351.2 L737.5,1350.9 L738.0,1350.2 L738.6,1349.3 L739.1,1348.1 L739.7,1350.1 L740.2,1349.5 L740.8,1347.7 L741.3,1350.3 L741.8,1347.9 L742.4,1347.8 L742.9,1348.5 L743.5,1348.4 L744.0,1347.5 L744.6,1347.5 L745.0,1348.5 L745.6,1346.5 L746.1,1346.7 L746.7,1347.8 L747.2,1348.6 L747.8,1345.0 L748.3,1346.1 L748.8,1345.8 L749.4,1344.5 L749.9,1345.8 L750.4,1345.4 L750.9,1345.4 L751.5,1346.7 L752.1,1344.2 L752.6,1347.0 L753.2,1346.1 L753.7,1345.4 L754.3,1344.6 L754.8,1347.0 L755.4,1345.1 L755.9,1347.5 L756.5,1346.1 L757.0,1347.0 L757.6,1344.3 L758.1,1346.5 L758.7,1344.6 L759.2,1346.4 L759.8,1344.0 L760.3,1345.2 L760.9,1345.9 L761.3,1344.7 L761.9,1344.6 L762.5,1344.0 L763.2,1342.7 L763.8,1340.9 L764.4,1339.9 L764.9,1339.0 L765.2,1338.9 L765.9,1338.4 L766.4,1337.2 L766.8,1336.2 L767.5,1335.4 L768.1,1335.4 L768.6,1333.2 L769.2,1333.4 L770.0,1331.6 L770.5,1330.0 L770.7,1328.7 L771.5,1327.1 L772.1,1327.2 L772.5,1328.0 L773.3,1325.9 L773.7,1324.7 L774.3,1325.0 L775.1,1326.0 L775.5,1322.9 L775.9,1322.9 L776.8,1322.5 L777.2,1321.4 L777.6,1322.3 L778.3,1321.0 L778.9,1323.3 L779.4,1319.9 L780.0,1318.4 L780.5,1319.0 L781.1,1318.4 L781.7,1319.5 L782.2,1318.8 L782.8,1321.0 L783.0,1318.5 L783.7,1316.4 L784.1,1313.3 L784.8,1311.0 L785.4,1316.7 L785.6,1322.3 L785.6,1327.9 L785.8,1333.4 L786.2,1334.3 L787.0,1333.3 L787.4,1335.7 L788.1,1336.3 L788.6,1336.2 L789.2,1336.6 L789.7,1337.6 L790.1,1337.2 L790.7,1338.4 L791.2,1337.3 L791.9,1339.1 L792.3,1338.1 L792.8,1339.8 L793.4,1339.7 L794.0,1341.9 L794.4,1342.6 L794.9,1342.9 L795.5,1340.8 L796.1,1342.3 L796.6,1344.0 L797.1,1343.7 L797.6,1341.6 L798.2,1343.4 L798.8,1342.7 L799.3,1344.5 L799.8,1344.3 L800.3,1343.5 L800.9,1343.9 L801.4,1346.0 L802.0,1344.4 L802.5,1347.7 L803.0,1346.3 L803.5,1347.6 L804.1,1347.8 L804.6,1347.9 L805.1,1347.0 L805.7,1348.4 L806.4,1348.4 L806.8,1347.5 L807.3,1346.3 L808.0,1345.2 L808.7,1344.8 L809.0,1343.7 L809.6,1342.6 L810.1,1340.7 L810.9,1340.9 L811.4,1340.1 L811.9,1338.4 L812.5,1337.1 L813.0,1338.9 L813.6,1338.1 L814.1,1337.4 L814.7,1337.8 L815.3,1338.4 L815.9,1338.4 L816.4,1338.9 L817.0,1339.2 L817.5,1337.5 L818.1,1339.7 L818.8,1339.9 L819.3,1342.1 L819.9,1340.9 L820.2,1341.1 L820.8,1343.0 L821.4,1342.7 L821.9,1345.2 L822.2,1345.9 L822.8,1344.3 L823.4,1344.7 L823.9,1347.3 L824.4,1347.2 L825.0,1346.9 L825.6,1348.4 L826.1,1347.5 L826.6,1347.3 L827.2,1348.7 L827.7,1349.0 L828.2,1350.1 L828.8,1348.8 L829.3,1350.2 L829.8,1347.2 L830.4,1349.4 L830.9,1349.2 L831.4,1350.3 L832.0,1348.6 L832.5,1349.8 L833.0,1348.9 L833.6,1347.3 L834.1,1349.2 L834.7,1348.5 L835.1,1346.4 L835.7,1347.2 L836.3,1348.4 L836.8,1346.4 L837.3,1346.7 L837.8,1347.5 L838.4,1344.2 L838.9,1343.7 L839.5,1344.7 L840.0,1344.6 L840.5,1344.4 L841.1,1345.9 L841.7,1344.0 L842.2,1345.1 L842.8,1345.8 L843.3,1344.7 L843.9,1347.4 L844.4,1345.0 L845.0,1344.2 L845.5,1345.9 L846.1,1345.6 L846.6,1346.7 L847.1,1347.3 L847.7,1346.3 L848.2,1345.6 L848.8,1346.6 L849.3,1346.3 L849.9,1346.1 L850.4,1344.7 L851.0,1347.4 L851.5,1344.8 L852.1,1347.7 L852.6,1347.3 L853.2,1347.8 L853.7,1345.6 L854.2,1347.7 L854.8,1345.6 L855.3,1346.1 L855.9,1347.6 L856.4,1346.0 L857.0,1348.3 L857.5,1348.3 L858.1,1348.6 L858.6,1346.6 L859.2,1347.7 L859.7,1347.3 L860.2,1347.4 L860.8,1347.7 L861.3,1345.1 L861.9,1348.4 L862.4,1348.1 L863.0,1347.6 L863.5,1346.1 L864.1,1346.1 L864.6,1347.3 L865.2,1347.2 L865.7,1346.5 L866.3,1348.9 L866.8,1348.9 L867.3,1347.3 L867.9,1346.6 L868.4,1346.0 L869.0,1348.2 L869.5,1345.4 L870.1,1347.2 L870.6,1345.9 L871.2,1346.8 L871.7,1348.8 L872.3,1346.6 L872.8,1345.8 L873.4,1348.0 L873.9,1345.8 L874.4,1347.2 L875.0,1348.4 L875.5,1346.1 L876.1,1348.4 L876.6,1345.3 L877.2,1348.4 L877.7,1348.2 L878.3,1347.7 L878.8,1349.0 L879.4,1348.5 L879.9,1346.5 L880.4,1347.9 L881.0,1347.5 L881.5,1346.3 L882.1,1345.8 L882.6,1348.7 L883.2,1347.9 L883.7,1345.8 L884.3,1348.2 L884.8,1345.7 L885.4,1348.2 L885.9,1348.4 L886.5,1345.7 L887.0,1348.6 L887.5,1345.6 L888.1,1347.2 L888.6,1345.6 L889.2,1345.4 L889.7,1347.5 L890.3,1346.4 L890.8,1344.9 L891.4,1345.6 L891.9,1347.2 L892.5,1346.4 L893.0,1344.8 L893.5,1345.3 L894.1,1346.9 L894.6,1345.2 L895.2,1347.2 L895.7,1345.6 L896.3,1347.2 L896.8,1345.3 L897.4,1346.7 L897.9,1344.3 L898.5,1345.1 L899.0,1343.7 L899.6,1346.8 L900.1,1344.3 L900.6,1346.2 L901.2,1343.1 L901.7,1345.4 L902.3,1345.0 L902.8,1344.3 L903.4,1343.9 L903.9,1345.6 L904.5,1343.9 L905.0,1345.6 L905.6,1345.8 L906.1,1345.6 L906.7,1345.4 L907.2,1345.9 L907.7,1345.3 L908.3,1343.4 L908.8,1342.8 L909.4,1343.8 L909.9,1342.7 L910.5,1344.8 L911.0,1345.8 L911.6,1343.4 L912.1,1344.2 L912.7,1345.7 L913.2,1343.4 L913.7,1342.2 L914.3,1344.3 L914.8,1345.8 L915.4,1343.3 L915.9,1342.6 L916.5,1344.3 L917.0,1343.6 L917.6,1343.2 L918.1,1343.7 L918.7,1344.2 L919.2,1342.2 L919.8,1343.3 L920.3,1345.5 L920.8,1345.0 L921.4,1344.1 L921.9,1342.1 L922.5,1344.6 L923.0,1343.5 L923.6,1345.2 L924.1,1342.2 L924.7,1344.5 L925.2,1342.1 L925.8,1342.1 L926.3,1344.4 L926.9,1343.7 L927.4,1342.7 L927.9,1345.2 L928.5,1344.8 L929.0,1345.1 L929.6,1344.5 L930.1,1344.2 L930.7,1345.8 L931.2,1344.1 L931.8,1342.3 L932.3,1342.9 L932.9,1342.0 L933.4,1345.4 L933.9,1343.9 L934.5,1344.9 L935.0,1343.1 L935.6,1343.4 L936.1,1343.7 L936.7,1344.6 L937.2,1346.3 L937.8,1346.4 L938.3,1346.1 L938.9,1344.9 L939.4,1345.8 L939.9,1343.8 L940.5,1345.2 L941.1,1345.0 L941.6,1346.2 L942.1,1345.1 L942.7,1344.4 L943.2,1346.4 L943.8,1345.3 L944.3,1346.2 L944.9,1345.8 L945.4,1346.6 L946.0,1345.1 L946.5,1344.4 L947.0,1346.9 L947.6,1344.9 L948.1,1344.8 L948.7,1345.0 L949.2,1345.4 L949.8,1345.6 L950.3,1346.5 L950.9,1348.1 L951.4,1347.3 L952.0,1346.5 L952.5,1347.9 L953.1,1344.3 L953.6,1345.3 L954.2,1345.7 L954.7,1344.0 L955.2,1345.0 L955.8,1347.2 L956.3,1344.5 L956.9,1345.0 L957.4,1344.2 L958.0,1345.6 L958.5,1344.5 L959.1,1346.2 L959.6,1344.5 L960.2,1346.1 L960.7,1344.8 L961.2,1343.4 L961.8,1345.1 L962.3,1346.3 L962.9,1342.7 L963.4,1343.4 L964.0,1345.7 L964.5,1344.3 L965.1,1343.0 L965.6,1343.8 L966.2,1342.8 L966.7,1343.9 L967.2,1342.1 L967.8,1342.5 L968.3,1344.1 L968.9,1345.2 L969.4,1344.6 L970.0,1342.7 L970.5,1345.2 L971.1,1345.9 L971.6,1343.8 L972.2,1343.7 L972.7,1345.8 L973.3,1344.5 L973.8,1342.9 L974.3,1345.5 L974.9,1344.8 L975.4,1346.3 L976.0,1345.6 L976.5,1343.8 L977.1,1344.2 L977.6,1342.8 L978.2,1344.2 L978.7,1344.6 L979.3,1343.9 L979.8,1342.9 L980.3,1343.1 L980.9,1345.5 L981.4,1346.7 L982.0,1346.7 L982.5,1345.7 L983.1,1345.4 L983.6,1346.6 L984.2,1345.4 L984.7,1344.2 L985.3,1346.7 L985.8,1343.3 L986.4,1347.1 L986.9,1344.1 L987.4,1346.8 L988.0,1345.6 L988.5,1345.0 L989.1,1343.4 L989.6,1343.6 L990.2,1343.9 L990.7,1346.7 L991.3,1343.7 L991.8,1345.5 L992.4,1344.2 L992.9,1345.6 L993.5,1346.8 L994.0,1347.3 L994.6,1345.3 L995.1,1346.1 L995.6,1346.7 L996.2,1346.7 L996.7,1348.6 L997.3,1345.3 L997.8,1346.5 L998.4,1347.1 L998.9,1349.1 L999.4,1349.1 L1000.0,1348.7 L1000.5,1347.4 L1001.1,1347.3 L1001.6,1348.8 L1002.2,1347.5 L1002.7,1348.8 L1003.3,1349.7 L1003.8,1350.0 L1004.3,1347.1 L1004.9,1348.7 L1005.5,1348.2 L1006.0,1347.5 L1006.6,1348.6 L1007.1,1347.5 L1007.7,1346.7 L1008.2,1346.7 L1008.7,1346.0 L1009.3,1345.8 L1009.8,1345.3 L1010.4,1345.3 L1010.9,1347.0 L1011.5,1343.3 L1012.0,1344.4 L1012.6,1344.6 L1013.1,1344.9 L1013.6,1343.6 L1014.2,1346.0 L1014.7,1343.7 L1015.3,1343.9 L1015.8,1346.1 L1016.4,1343.6 L1016.9,1345.4 L1017.5,1344.5 L1018.0,1343.5 L1018.6,1346.0 L1019.1,1343.1 L1019.7,1346.5 L1020.2,1344.4 L1020.7,1342.9 L1021.3,1342.9 L1021.8,1345.2 L1022.4,1344.6 L1022.9,1346.2 L1023.5,1345.3 L1024.0,1345.3 L1024.6,1344.2 L1025.1,1346.1 L1025.7,1344.4 L1026.2,1345.8 L1026.7,1345.4 L1027.3,1344.6 L1027.8,1345.3 L1028.4,1347.8 L1028.9,1346.6 L1029.5,1346.0 L1030.0,1347.0 L1030.6,1344.9 L1031.1,1347.0 L1031.7,1346.2 L1032.2,1348.5 L1032.8,1346.3 L1033.3,1346.5 L1033.9,1346.2 L1034.4,1347.4 L1035.0,1346.5 L1035.5,1347.9 L1036.0,1346.4 L1036.6,1346.9 L1037.2,1348.3 L1037.8,1347.2" stroke="#e2131b" stroke-width="3.9" fill="none" stroke-linejoin="round" stroke-linecap="round"/>
<rect x="1256.7" y="553" width="490.7" height="366" fill="none" stroke="#000" stroke-width="2.2"/>
<path d="M1328.8,919 v-8.5" stroke="#000" stroke-width="2.2"/>
<path d="M1400.9,919 v-8.5" stroke="#000" stroke-width="2.2"/>
<path d="M1473.0,919 v-8.5" stroke="#000" stroke-width="2.2"/>
<path d="M1545.2,919 v-8.5" stroke="#000" stroke-width="2.2"/>
<path d="M1617.3,919 v-8.5" stroke="#000" stroke-width="2.2"/>
<path d="M1689.4,919 v-8.5" stroke="#000" stroke-width="2.2"/>
<text x="1254.9" y="955" font-size="34" font-family="Liberation Serif, serif" text-anchor="middle" fill="#000" >700</text>
<text x="1333.8" y="955" font-size="34" font-family="Liberation Serif, serif" text-anchor="middle" fill="#000" >725</text>
<text x="1407.0" y="955" font-size="34" font-family="Liberation Serif, serif" text-anchor="middle" fill="#000" >750</text>
<text x="1477.4" y="955" font-size="34" font-family="Liberation Serif, serif" text-anchor="middle" fill="#000" >775</text>
<text x="1551.9" y="955" font-size="34" font-family="Liberation Serif, serif" text-anchor="middle" fill="#000" >800</text>
<text x="1623.3" y="955" font-size="34" font-family="Liberation Serif, serif" text-anchor="middle" fill="#000" >825</text>
<text x="1697.0" y="955" font-size="34" font-family="Liberation Serif, serif" text-anchor="middle" fill="#000" >850</text>
<path d="M1256.7,888.7 h8.5" stroke="#000" stroke-width="2.2"/>
<text x="1245.5" y="899.7" font-size="34" font-family="Liberation Serif, serif" text-anchor="end" fill="#000" >0.0</text>
<path d="M1256.7,827.7 h8.5" stroke="#000" stroke-width="2.2"/>
<text x="1245.5" y="838.6800000000001" font-size="34" font-family="Liberation Serif, serif" text-anchor="end" fill="#000" >0.2</text>
<path d="M1256.7,766.7 h8.5" stroke="#000" stroke-width="2.2"/>
<text x="1245.5" y="777.6600000000001" font-size="34" font-family="Liberation Serif, serif" text-anchor="end" fill="#000" >0.4</text>
<path d="M1256.7,705.6 h8.5" stroke="#000" stroke-width="2.2"/>
<text x="1245.5" y="716.6400000000001" font-size="34" font-family="Liberation Serif, serif" text-anchor="end" fill="#000" >0.6</text>
<path d="M1256.7,644.6 h8.5" stroke="#000" stroke-width="2.2"/>
<text x="1245.5" y="655.62" font-size="34" font-family="Liberation Serif, serif" text-anchor="end" fill="#000" >0.8</text>
<path d="M1256.7,583.6 h8.5" stroke="#000" stroke-width="2.2"/>
<text x="1245.5" y="594.6" font-size="34" font-family="Liberation Serif, serif" text-anchor="end" fill="#000" >1.0</text>
<text x="1524.5" y="986" font-size="34" font-family="Liberation Serif, serif" text-anchor="middle" fill="#000" textLength="235" lengthAdjust="spacingAndGlyphs" >Wavelength (nm)</text>
<text transform="translate(1160.8,738.2) rotate(-90)" font-size="35" font-family="Liberation Serif, serif" text-anchor="middle" xml:space="preserve" style="white-space:pre" textLength="360.5" lengthAdjust="spacingAndGlyphs">SH intensity (normalized)</text>
<path d="M1256.7,888.7 L1260.7,888.7 L1264.7,888.7 L1268.7,888.7 L1272.7,888.7 L1276.7,888.7 L1280.7,888.7 L1284.7,888.7 L1288.7,888.7 L1292.7,888.7 L1296.7,888.7 L1300.7,888.7 L1304.7,888.7 L1308.7,888.7 L1312.7,888.7 L1316.7,888.7 L1320.7,888.7 L1324.7,888.7 L1328.7,888.7 L1332.7,888.7 L1336.7,888.7 L1340.7,888.7 L1344.7,888.7 L1348.7,888.7 L1352.7,888.7 L1356.7,888.7 L1360.7,888.7 L1364.7,888.7 L1368.7,888.6 L1372.7,888.6 L1376.7,888.6 L1380.7,888.6 L1384.7,888.6 L1388.7,888.6 L1392.7,888.6 L1396.7,888.6 L1400.7,888.6 L1404.7,888.6 L1408.7,888.6 L1412.7,888.6 L1416.7,888.6 L1420.7,888.6 L1424.7,888.5 L1428.7,888.5 L1432.7,888.5 L1436.7,888.5 L1440.7,888.5 L1444.7,888.4 L1448.7,888.4 L1452.7,888.3 L1456.7,888.3 L1460.7,888.2 L1464.7,888.1 L1468.7,887.9 L1472.7,887.7 L1476.7,887.4 L1480.7,886.9 L1481.0,886.8 L1481.2,886.8 L1481.5,886.7 L1481.7,886.7 L1482.0,886.7 L1482.2,886.6 L1482.5,886.6 L1482.7,886.5 L1483.0,886.5 L1483.2,886.4 L1483.5,886.4 L1483.7,886.3 L1484.0,886.2 L1484.2,886.2 L1484.5,886.1 L1484.7,886.0 L1485.0,886.0 L1485.2,885.9 L1485.5,885.8 L1485.7,885.8 L1486.0,885.7 L1486.2,885.6 L1486.5,885.5 L1486.7,885.4 L1487.0,885.3 L1487.2,885.2 L1487.5,885.1 L1487.7,885.0 L1488.0,884.9 L1488.2,884.8 L1488.5,884.7 L1488.7,884.6 L1489.0,884.5 L1489.2,884.3 L1489.5,884.2 L1489.7,884.1 L1490.0,883.9 L1490.2,883.8 L1490.5,883.6 L1490.7,883.4 L1491.0,883.2 L1491.2,883.1 L1491.5,882.9 L1491.7,882.7 L1492.0,882.5 L1492.2,882.3 L1492.5,882.0 L1492.7,881.8 L1493.0,881.6 L1493.2,881.3 L1493.5,881.0 L1493.7,880.8 L1494.0,880.5 L1494.2,880.2 L1494.5,879.9 L1494.7,879.5 L1495.0,879.2 L1495.2,878.9 L1495.5,867.5 L1495.7,856.1 L1496.0,844.7 L1496.2,833.3 L1496.5,821.8 L1496.7,810.4 L1497.0,799.0 L1497.2,787.5 L1497.5,776.0 L1497.7,764.6 L1498.0,753.1 L1498.2,741.7 L1498.5,730.2 L1498.7,718.8 L1499.0,707.4 L1499.2,696.0 L1499.5,684.6 L1499.7,673.2 L1500.0,661.9 L1500.2,650.6 L1500.5,639.3 L1500.7,628.1 L1501.0,616.9 L1501.2,605.8 L1501.5,594.7 L1501.7,583.6 L1502.0,594.7 L1502.2,605.8 L1502.5,616.9 L1502.7,628.1 L1503.0,639.3 L1503.2,650.6 L1503.5,661.9 L1503.7,673.2 L1504.0,684.6 L1504.2,696.0 L1504.5,707.4 L1504.7,718.8 L1505.0,730.2 L1505.2,741.7 L1505.5,753.1 L1505.7,764.6 L1506.0,776.0 L1506.2,787.5 L1506.5,799.0 L1506.7,810.4 L1507.0,821.8 L1507.2,833.3 L1507.5,844.7 L1507.7,856.1 L1508.0,867.5 L1508.2,878.9 L1508.5,879.2 L1508.7,879.5 L1509.0,879.9 L1509.2,880.2 L1509.5,880.5 L1509.7,880.8 L1510.0,881.0 L1510.2,881.3 L1510.5,881.6 L1510.7,881.8 L1511.0,882.0 L1511.2,882.3 L1511.5,882.5 L1511.7,882.7 L1512.0,882.9 L1512.2,883.1 L1512.5,883.2 L1512.7,883.4 L1513.0,883.6 L1513.2,883.8 L1513.5,883.9 L1513.7,884.1 L1514.0,884.2 L1514.2,884.3 L1514.5,884.5 L1514.7,884.6 L1515.0,884.7 L1515.2,884.8 L1515.5,884.9 L1515.7,885.0 L1516.0,885.1 L1516.2,885.2 L1516.5,885.3 L1516.7,885.4 L1517.0,885.5 L1517.2,885.6 L1517.5,885.7 L1517.7,885.8 L1518.0,885.8 L1518.2,885.9 L1518.5,886.0 L1518.7,886.0 L1519.0,886.1 L1519.2,886.2 L1519.5,886.2 L1519.7,886.3 L1520.0,886.4 L1520.2,886.4 L1520.5,886.5 L1520.7,886.5 L1521.0,886.6 L1521.2,886.6 L1521.5,886.7 L1521.7,886.7 L1522.0,886.7 L1522.2,886.8 L1522.5,886.8 L1522.7,886.9 L1523.0,886.9 L1523.2,886.9 L1523.5,887.0 L1523.7,887.0 L1524.0,887.1 L1524.2,887.1 L1524.5,887.1 L1524.7,887.1 L1525.0,887.2 L1525.2,887.2 L1525.5,887.2 L1525.7,887.3 L1526.0,887.3 L1526.2,887.3 L1526.5,887.3 L1526.7,887.4 L1530.7,887.7 L1534.7,887.9 L1538.7,888.1 L1542.7,888.2 L1546.7,888.3 L1550.7,888.3 L1554.7,888.4 L1558.7,888.4 L1562.7,888.5 L1566.7,888.5 L1570.7,888.5 L1574.7,888.5 L1578.7,888.5 L1582.7,888.6 L1586.7,888.6 L1590.7,888.6 L1594.7,888.6 L1598.7,888.6 L1602.7,888.6 L1606.7,888.6 L1610.7,888.6 L1614.7,888.6 L1618.7,888.6 L1622.7,888.6 L1626.7,888.6 L1630.7,888.6 L1634.7,888.6 L1638.7,888.7 L1642.7,888.7 L1646.7,888.7 L1650.7,888.7 L1654.7,888.7 L1658.7,888.7 L1662.7,888.7 L1666.7,888.7 L1670.7,888.7 L1674.7,888.7 L1678.7,888.7 L1682.7,888.7 L1686.7,888.7 L1690.7,888.7 L1694.7,888.7 L1698.7,888.7 L1702.7,888.7 L1706.7,888.7 L1710.7,888.7 L1714.7,888.7 L1718.7,888.7 L1722.7,888.7 L1726.7,888.7 L1730.7,888.7 L1734.7,888.7 L1738.7,888.7 L1742.7,888.7 L1746.7,888.7 L1747.4,888.7" stroke="#e2131b" stroke-width="4.5" fill="none" stroke-linejoin="round"/>
<defs><filter id="bl1" x="-30%" y="-30%" width="160%" height="160%"><feGaussianBlur stdDeviation="1.0"/></filter><filter id="bl2" x="-30%" y="-30%" width="160%" height="160%"><feGaussianBlur stdDeviation="2.4"/></filter><filter id="bl3" x="-30%" y="-30%" width="160%" height="160%"><feGaussianBlur stdDeviation="0.6"/></filter></defs>
<rect x="1554" y="596.2" width="140.6" height="131.8" fill="#0c0c0c"/>
<rect x="1553.4" y="745.2" width="141.4" height="131.3" fill="#000"/>
<g filter="url(#bl1)"><circle cx="1641.1" cy="679.9" r="1.3" fill="#fff" opacity="0.11"/><circle cx="1656.9" cy="699.5" r="0.6" fill="#fff" opacity="0.07"/><circle cx="1684.4" cy="669.7" r="1.4" fill="#fff" opacity="0.04"/><circle cx="1620.3" cy="625.9" r="1.1" fill="#fff" opacity="0.08"/><circle cx="1558.8" cy="622.6" r="0.9" fill="#fff" opacity="0.11"/><circle cx="1660.4" cy="616.4" r="1.3" fill="#fff" opacity="0.04"/><circle cx="1640.4" cy="612.8" r="0.6" fill="#fff" opacity="0.11"/><circle cx="1585.3" cy="622.5" r="1.5" fill="#fff" opacity="0.11"/><circle cx="1596.1" cy="703.8" r="1.1" fill="#fff" opacity="0.09"/><circle cx="1584.6" cy="701.6" r="1.2" fill="#fff" opacity="0.12"/><circle cx="1677.7" cy="631.6" r="0.9" fill="#fff" opacity="0.04"/><circle cx="1576.7" cy="606.1" r="0.9" fill="#fff" opacity="0.08"/><circle cx="1557.5" cy="672.9" r="0.9" fill="#fff" opacity="0.06"/><circle cx="1667.5" cy="651.4" r="0.9" fill="#fff" opacity="0.07"/><circle cx="1652.1" cy="605.2" r="1.5" fill="#fff" opacity="0.03"/><circle cx="1658.2" cy="691.1" r="0.6" fill="#fff" opacity="0.10"/><circle cx="1606.4" cy="662.1" r="0.6" fill="#fff" opacity="0.03"/><circle cx="1581.4" cy="703.1" r="0.8" fill="#fff" opacity="0.10"/><circle cx="1682.5" cy="701.7" r="0.9" fill="#fff" opacity="0.06"/><circle cx="1627.8" cy="683.5" r="0.7" fill="#fff" opacity="0.10"/><circle cx="1664.6" cy="692.7" r="0.6" fill="#fff" opacity="0.12"/><circle cx="1569.3" cy="636.1" r="1.1" fill="#fff" opacity="0.11"/><circle cx="1602.9" cy="699.7" r="1.1" fill="#fff" opacity="0.06"/><circle cx="1599.8" cy="618.3" r="0.7" fill="#fff" opacity="0.04"/><circle cx="1650.0" cy="707.6" r="0.7" fill="#fff" opacity="0.03"/><circle cx="1690.2" cy="657.2" r="1.0" fill="#fff" opacity="0.05"/><circle cx="1637.2" cy="689.1" r="1.0" fill="#fff" opacity="0.07"/><circle cx="1564.5" cy="698.9" r="0.6" fill="#fff" opacity="0.07"/><circle cx="1670.2" cy="613.2" r="1.3" fill="#fff" opacity="0.12"/><circle cx="1642.1" cy="684.9" r="0.7" fill="#fff" opacity="0.07"/><circle cx="1577.1" cy="691.1" r="0.9" fill="#fff" opacity="0.07"/><circle cx="1691.9" cy="691.9" r="1.5" fill="#fff" opacity="0.07"/><circle cx="1622.9" cy="678.5" r="1.0" fill="#fff" opacity="0.06"/><circle cx="1611.5" cy="615.0" r="0.9" fill="#fff" opacity="0.12"/><circle cx="1686.6" cy="667.3" r="1.0" fill="#fff" opacity="0.06"/><circle cx="1569.0" cy="628.7" r="1.3" fill="#fff" opacity="0.11"/><circle cx="1605.8" cy="684.7" r="1.3" fill="#fff" opacity="0.09"/><circle cx="1646.6" cy="681.8" r="0.9" fill="#fff" opacity="0.09"/><circle cx="1594.9" cy="651.9" r="1.3" fill="#fff" opacity="0.09"/><circle cx="1596.7" cy="702.1" r="1.2" fill="#fff" opacity="0.08"/><circle cx="1558.6" cy="658.6" r="0.8" fill="#fff" opacity="0.09"/><circle cx="1619.5" cy="688.0" r="1.2" fill="#fff" opacity="0.10"/><circle cx="1604.0" cy="669.2" r="1.3" fill="#fff" opacity="0.10"/><circle cx="1604.3" cy="690.9" r="1.4" fill="#fff" opacity="0.09"/><circle cx="1688.8" cy="703.3" r="1.1" fill="#fff" opacity="0.08"/><circle cx="1579.4" cy="690.2" r="1.4" fill="#fff" opacity="0.07"/><circle cx="1650.3" cy="677.4" r="1.3" fill="#fff" opacity="0.05"/><circle cx="1662.4" cy="662.3" r="1.2" fill="#fff" opacity="0.07"/><circle cx="1641.2" cy="683.4" r="1.2" fill="#fff" opacity="0.09"/><circle cx="1560.7" cy="616.4" r="1.0" fill="#fff" opacity="0.09"/><circle cx="1586.6" cy="673.8" r="1.2" fill="#fff" opacity="0.03"/><circle cx="1620.7" cy="623.7" r="0.6" fill="#fff" opacity="0.04"/><circle cx="1599.8" cy="618.8" r="0.8" fill="#fff" opacity="0.03"/><circle cx="1619.8" cy="640.5" r="1.2" fill="#fff" opacity="0.08"/><circle cx="1589.1" cy="697.4" r="0.6" fill="#fff" opacity="0.07"/><circle cx="1594.6" cy="643.7" r="0.7" fill="#fff" opacity="0.10"/><circle cx="1607.5" cy="602.9" r="1.2" fill="#fff" opacity="0.04"/><circle cx="1630.6" cy="636.0" r="1.1" fill="#fff" opacity="0.12"/><circle cx="1667.5" cy="644.7" r="1.3" fill="#fff" opacity="0.09"/><circle cx="1606.9" cy="614.5" r="1.1" fill="#fff" opacity="0.08"/><circle cx="1686.2" cy="704.5" r="1.1" fill="#fff" opacity="0.06"/><circle cx="1677.6" cy="599.1" r="0.7" fill="#fff" opacity="0.08"/><circle cx="1640.0" cy="614.3" r="1.2" fill="#fff" opacity="0.11"/><circle cx="1607.7" cy="646.1" r="0.8" fill="#fff" opacity="0.06"/><circle cx="1688.3" cy="640.4" r="1.5" fill="#fff" opacity="0.11"/><circle cx="1637.4" cy="627.3" r="1.5" fill="#fff" opacity="0.07"/><circle cx="1613.1" cy="633.8" r="1.5" fill="#fff" opacity="0.07"/><circle cx="1595.7" cy="651.0" r="0.7" fill="#fff" opacity="0.09"/><circle cx="1616.9" cy="630.9" r="1.3" fill="#fff" opacity="0.10"/><circle cx="1558.8" cy="657.0" r="0.8" fill="#fff" opacity="0.11"/><circle cx="1662.6" cy="625.8" r="0.8" fill="#fff" opacity="0.04"/><circle cx="1690.5" cy="631.0" r="1.1" fill="#fff" opacity="0.07"/><circle cx="1644.1" cy="664.8" r="1.3" fill="#fff" opacity="0.04"/><circle cx="1659.7" cy="631.8" r="1.1" fill="#fff" opacity="0.06"/><circle cx="1597.1" cy="656.8" r="1.0" fill="#fff" opacity="0.06"/><circle cx="1657.6" cy="663.4" r="0.6" fill="#fff" opacity="0.05"/><circle cx="1618.5" cy="698.9" r="1.4" fill="#fff" opacity="0.08"/><circle cx="1559.0" cy="683.8" r="1.0" fill="#fff" opacity="0.08"/><circle cx="1652.6" cy="667.9" r="1.0" fill="#fff" opacity="0.11"/><circle cx="1609.0" cy="641.7" r="1.4" fill="#fff" opacity="0.05"/><circle cx="1597.0" cy="689.5" r="0.7" fill="#fff" opacity="0.11"/><circle cx="1650.8" cy="646.2" r="0.9" fill="#fff" opacity="0.10"/><circle cx="1679.9" cy="614.6" r="1.0" fill="#fff" opacity="0.08"/><circle cx="1624.2" cy="635.1" r="0.7" fill="#fff" opacity="0.08"/><circle cx="1666.6" cy="606.5" r="0.8" fill="#fff" opacity="0.10"/><circle cx="1663.9" cy="671.3" r="0.6" fill="#fff" opacity="0.10"/><circle cx="1689.1" cy="707.8" r="1.2" fill="#fff" opacity="0.03"/><circle cx="1670.7" cy="622.9" r="1.2" fill="#fff" opacity="0.12"/><circle cx="1653.2" cy="613.7" r="0.9" fill="#fff" opacity="0.11"/><circle cx="1577.2" cy="665.6" r="1.0" fill="#fff" opacity="0.04"/><circle cx="1641.0" cy="603.7" r="0.7" fill="#fff" opacity="0.06"/><circle cx="1566.7" cy="605.3" r="1.1" fill="#fff" opacity="0.10"/><circle cx="1675.6" cy="613.6" r="1.0" fill="#fff" opacity="0.06"/><circle cx="1638.0" cy="652.4" r="1.4" fill="#fff" opacity="0.06"/><circle cx="1564.5" cy="675.0" r="0.7" fill="#fff" opacity="0.09"/><circle cx="1625.3" cy="698.2" r="1.1" fill="#fff" opacity="0.09"/><circle cx="1592.5" cy="659.1" r="0.8" fill="#fff" opacity="0.10"/><circle cx="1626.8" cy="613.6" r="0.8" fill="#fff" opacity="0.06"/><circle cx="1656.5" cy="618.5" r="1.2" fill="#fff" opacity="0.09"/><circle cx="1568.5" cy="671.8" r="0.7" fill="#fff" opacity="0.04"/><circle cx="1637.2" cy="625.0" r="1.4" fill="#fff" opacity="0.07"/><circle cx="1600.6" cy="685.8" r="0.6" fill="#fff" opacity="0.10"/><circle cx="1564.2" cy="615.4" r="1.5" fill="#fff" opacity="0.09"/><circle cx="1587.1" cy="611.7" r="1.5" fill="#fff" opacity="0.09"/><circle cx="1667.8" cy="614.2" r="1.2" fill="#fff" opacity="0.06"/><circle cx="1588.7" cy="635.3" r="1.2" fill="#fff" opacity="0.06"/><circle cx="1609.1" cy="613.9" r="1.3" fill="#fff" opacity="0.09"/><circle cx="1665.6" cy="646.2" r="1.4" fill="#fff" opacity="0.08"/><circle cx="1637.0" cy="661.5" r="1.3" fill="#fff" opacity="0.07"/><circle cx="1570.1" cy="602.6" r="0.8" fill="#fff" opacity="0.03"/><circle cx="1677.0" cy="651.4" r="1.3" fill="#fff" opacity="0.03"/><circle cx="1620.5" cy="696.0" r="1.2" fill="#fff" opacity="0.07"/><circle cx="1619.9" cy="609.9" r="0.7" fill="#fff" opacity="0.04"/><circle cx="1607.6" cy="641.0" r="1.4" fill="#fff" opacity="0.04"/><circle cx="1591.3" cy="629.2" r="0.7" fill="#fff" opacity="0.06"/><circle cx="1588.7" cy="651.5" r="0.6" fill="#fff" opacity="0.11"/><circle cx="1606.8" cy="701.2" r="1.2" fill="#fff" opacity="0.09"/><circle cx="1620.7" cy="702.0" r="0.7" fill="#fff" opacity="0.09"/><circle cx="1596.3" cy="672.5" r="1.3" fill="#fff" opacity="0.04"/><circle cx="1584.1" cy="601.7" r="0.8" fill="#fff" opacity="0.04"/><circle cx="1611.1" cy="705.1" r="0.9" fill="#fff" opacity="0.06"/><circle cx="1620.2" cy="629.9" r="1.3" fill="#fff" opacity="0.09"/><circle cx="1579.1" cy="625.2" r="1.2" fill="#fff" opacity="0.11"/><circle cx="1644.2" cy="645.9" r="1.5" fill="#fff" opacity="0.03"/><circle cx="1565.2" cy="683.9" r="1.0" fill="#fff" opacity="0.03"/><circle cx="1631.0" cy="706.9" r="1.1" fill="#fff" opacity="0.06"/><circle cx="1569.7" cy="606.8" r="1.4" fill="#fff" opacity="0.07"/><circle cx="1683.3" cy="604.9" r="0.8" fill="#fff" opacity="0.03"/><circle cx="1610.6" cy="605.6" r="0.8" fill="#fff" opacity="0.07"/><circle cx="1598.3" cy="604.6" r="0.6" fill="#fff" opacity="0.12"/><circle cx="1581.2" cy="654.4" r="1.0" fill="#fff" opacity="0.08"/><circle cx="1568.4" cy="633.2" r="0.7" fill="#fff" opacity="0.08"/><circle cx="1681.4" cy="664.2" r="1.4" fill="#fff" opacity="0.05"/><circle cx="1559.4" cy="657.8" r="1.0" fill="#fff" opacity="0.08"/><circle cx="1607.8" cy="667.1" r="1.3" fill="#fff" opacity="0.11"/><circle cx="1598.5" cy="647.9" r="1.3" fill="#fff" opacity="0.05"/><circle cx="1572.6" cy="633.0" r="0.7" fill="#fff" opacity="0.10"/><circle cx="1667.6" cy="633.1" r="0.7" fill="#fff" opacity="0.04"/><circle cx="1590.1" cy="608.2" r="1.0" fill="#fff" opacity="0.08"/><circle cx="1590.1" cy="605.7" r="1.2" fill="#fff" opacity="0.03"/><circle cx="1584.0" cy="630.2" r="0.9" fill="#fff" opacity="0.04"/><circle cx="1613.8" cy="633.2" r="1.3" fill="#fff" opacity="0.08"/><circle cx="1678.0" cy="670.3" r="1.3" fill="#fff" opacity="0.08"/><circle cx="1616.7" cy="688.0" r="1.2" fill="#fff" opacity="0.12"/><circle cx="1655.3" cy="675.4" r="0.8" fill="#fff" opacity="0.10"/><circle cx="1608.6" cy="613.2" r="0.7" fill="#fff" opacity="0.05"/><circle cx="1592.4" cy="672.7" r="0.9" fill="#fff" opacity="0.04"/><circle cx="1660.1" cy="659.7" r="0.6" fill="#fff" opacity="0.03"/><circle cx="1574.6" cy="637.9" r="1.4" fill="#fff" opacity="0.12"/><circle cx="1639.6" cy="624.2" r="1.0" fill="#fff" opacity="0.06"/><circle cx="1601.6" cy="600.4" r="1.1" fill="#fff" opacity="0.10"/><circle cx="1655.1" cy="609.4" r="1.1" fill="#fff" opacity="0.05"/><circle cx="1652.8" cy="647.6" r="1.4" fill="#fff" opacity="0.10"/><circle cx="1573.0" cy="633.6" r="1.4" fill="#fff" opacity="0.07"/><circle cx="1615.6" cy="647.1" r="1.3" fill="#fff" opacity="0.11"/><circle cx="1628.9" cy="704.7" r="1.1" fill="#fff" opacity="0.04"/><circle cx="1666.9" cy="644.7" r="0.6" fill="#fff" opacity="0.12"/><circle cx="1561.4" cy="661.9" r="1.0" fill="#fff" opacity="0.11"/><circle cx="1610.0" cy="622.5" r="0.8" fill="#fff" opacity="0.05"/><circle cx="1632.9" cy="637.9" r="1.3" fill="#fff" opacity="0.05"/><circle cx="1604.5" cy="626.1" r="1.5" fill="#fff" opacity="0.11"/><circle cx="1671.7" cy="666.4" r="1.0" fill="#fff" opacity="0.04"/><circle cx="1669.3" cy="652.4" r="0.6" fill="#fff" opacity="0.05"/><circle cx="1570.3" cy="677.2" r="1.4" fill="#fff" opacity="0.05"/><circle cx="1664.6" cy="634.3" r="1.2" fill="#fff" opacity="0.11"/><circle cx="1641.1" cy="686.2" r="0.9" fill="#fff" opacity="0.03"/><circle cx="1626.1" cy="662.9" r="0.8" fill="#fff" opacity="0.07"/><circle cx="1599.8" cy="601.9" r="0.9" fill="#fff" opacity="0.06"/><circle cx="1621.3" cy="675.7" r="1.0" fill="#fff" opacity="0.12"/><circle cx="1667.1" cy="699.7" r="1.2" fill="#fff" opacity="0.09"/><circle cx="1629.5" cy="686.1" r="0.9" fill="#fff" opacity="0.08"/><circle cx="1648.7" cy="655.9" r="0.9" fill="#fff" opacity="0.04"/><circle cx="1568.8" cy="637.8" r="1.1" fill="#fff" opacity="0.10"/><circle cx="1653.5" cy="632.4" r="1.4" fill="#fff" opacity="0.05"/><circle cx="1653.7" cy="606.9" r="1.3" fill="#fff" opacity="0.09"/><circle cx="1686.2" cy="696.8" r="1.2" fill="#fff" opacity="0.11"/><circle cx="1656.7" cy="665.6" r="0.8" fill="#fff" opacity="0.08"/><circle cx="1678.0" cy="625.1" r="1.5" fill="#fff" opacity="0.08"/><circle cx="1610.1" cy="599.3" r="1.0" fill="#fff" opacity="0.05"/><circle cx="1645.2" cy="697.0" r="1.4" fill="#fff" opacity="0.09"/><circle cx="1609.2" cy="610.9" r="1.2" fill="#fff" opacity="0.08"/><circle cx="1653.6" cy="639.8" r="1.4" fill="#fff" opacity="0.05"/><circle cx="1598.3" cy="628.2" r="1.2" fill="#fff" opacity="0.11"/><circle cx="1579.6" cy="668.0" r="1.3" fill="#fff" opacity="0.05"/><circle cx="1565.5" cy="660.7" r="1.3" fill="#fff" opacity="0.11"/><circle cx="1655.3" cy="644.4" r="1.0" fill="#fff" opacity="0.08"/><circle cx="1679.1" cy="632.0" r="0.9" fill="#fff" opacity="0.08"/><circle cx="1687.5" cy="619.4" r="0.6" fill="#fff" opacity="0.04"/><circle cx="1632.9" cy="664.8" r="0.8" fill="#fff" opacity="0.05"/><circle cx="1637.3" cy="669.5" r="1.2" fill="#fff" opacity="0.10"/><circle cx="1565.3" cy="651.8" r="1.4" fill="#fff" opacity="0.12"/><circle cx="1600.0" cy="691.7" r="1.2" fill="#fff" opacity="0.11"/><circle cx="1587.9" cy="675.0" r="1.4" fill="#fff" opacity="0.07"/><circle cx="1570.6" cy="620.1" r="0.7" fill="#fff" opacity="0.04"/><circle cx="1577.5" cy="666.1" r="0.7" fill="#fff" opacity="0.10"/><circle cx="1656.4" cy="688.0" r="1.3" fill="#fff" opacity="0.09"/><circle cx="1681.8" cy="703.3" r="1.2" fill="#fff" opacity="0.12"/><circle cx="1570.9" cy="610.2" r="0.7" fill="#fff" opacity="0.05"/><circle cx="1607.5" cy="649.0" r="1.2" fill="#fff" opacity="0.10"/><circle cx="1568.3" cy="643.0" r="1.1" fill="#fff" opacity="0.06"/><circle cx="1572.9" cy="664.1" r="0.9" fill="#fff" opacity="0.09"/><circle cx="1623.9" cy="703.9" r="1.5" fill="#fff" opacity="0.04"/><circle cx="1659.6" cy="677.6" r="0.9" fill="#fff" opacity="0.04"/><circle cx="1621.7" cy="637.6" r="1.3" fill="#fff" opacity="0.11"/><circle cx="1608.6" cy="630.7" r="1.0" fill="#fff" opacity="0.09"/><circle cx="1663.5" cy="661.7" r="0.9" fill="#fff" opacity="0.06"/><circle cx="1671.5" cy="655.6" r="0.6" fill="#fff" opacity="0.07"/><circle cx="1589.1" cy="671.6" r="0.7" fill="#fff" opacity="0.05"/><circle cx="1570.0" cy="651.1" r="1.5" fill="#fff" opacity="0.08"/><circle cx="1609.1" cy="700.8" r="0.7" fill="#fff" opacity="0.06"/><circle cx="1666.5" cy="599.6" r="1.3" fill="#fff" opacity="0.06"/><circle cx="1559.2" cy="626.3" r="1.0" fill="#fff" opacity="0.06"/><circle cx="1626.8" cy="604.8" r="0.8" fill="#fff" opacity="0.12"/><circle cx="1616.8" cy="650.4" r="0.7" fill="#fff" opacity="0.06"/><circle cx="1685.9" cy="673.9" r="1.1" fill="#fff" opacity="0.03"/><circle cx="1610.0" cy="683.8" r="1.0" fill="#fff" opacity="0.08"/><circle cx="1678.8" cy="669.3" r="1.2" fill="#fff" opacity="0.03"/><circle cx="1560.2" cy="682.9" r="1.0" fill="#fff" opacity="0.11"/><circle cx="1668.5" cy="698.8" r="0.9" fill="#fff" opacity="0.12"/><circle cx="1659.1" cy="696.2" r="0.7" fill="#fff" opacity="0.10"/><circle cx="1614.0" cy="705.0" r="1.5" fill="#fff" opacity="0.05"/><circle cx="1613.9" cy="628.5" r="1.0" fill="#fff" opacity="0.06"/><circle cx="1647.0" cy="612.4" r="0.8" fill="#fff" opacity="0.07"/><circle cx="1567.0" cy="640.5" r="1.4" fill="#fff" opacity="0.11"/><circle cx="1583.5" cy="601.0" r="1.3" fill="#fff" opacity="0.12"/><circle cx="1637.9" cy="613.9" r="0.8" fill="#fff" opacity="0.11"/><circle cx="1683.6" cy="602.4" r="0.8" fill="#fff" opacity="0.07"/><circle cx="1593.0" cy="681.2" r="0.9" fill="#fff" opacity="0.10"/><circle cx="1577.5" cy="655.5" r="1.5" fill="#fff" opacity="0.09"/><circle cx="1569.2" cy="611.1" r="1.2" fill="#fff" opacity="0.06"/><ellipse cx="1593.8" cy="652.3" rx="2.6" ry="1.8" transform="rotate(-72 1593.8 652.3)" fill="rgb(255,255,255)" opacity="1.00"/><ellipse cx="1591.9" cy="661.2" rx="2.0" ry="1.8" transform="rotate(-88 1591.9 661.2)" fill="rgb(255,255,255)" opacity="1.00"/><ellipse cx="1595.2" cy="645.7" rx="1.9" ry="1.6" transform="rotate(-61 1595.2 645.7)" fill="rgb(189,189,189)" opacity="0.72"/><ellipse cx="1592.8" cy="672.0" rx="1.9" ry="1.5" transform="rotate(254 1592.8 672.0)" fill="rgb(164,164,164)" opacity="0.58"/><ellipse cx="1594.3" cy="677.7" rx="1.8" ry="1.6" transform="rotate(245 1594.3 677.7)" fill="rgb(189,189,189)" opacity="0.72"/><ellipse cx="1596.1" cy="682.4" rx="1.7" ry="1.6" transform="rotate(237 1596.1 682.4)" fill="rgb(189,189,189)" opacity="0.72"/><ellipse cx="1598.5" cy="686.2" rx="1.9" ry="1.8" transform="rotate(230 1598.5 686.2)" fill="rgb(246,246,246)" opacity="1.00"/><ellipse cx="1603.7" cy="692.3" rx="2.0" ry="1.8" transform="rotate(217 1603.7 692.3)" fill="rgb(255,255,255)" opacity="1.00"/><ellipse cx="1608.9" cy="696.0" rx="1.8" ry="1.6" transform="rotate(208 1608.9 696.0)" fill="rgb(197,197,197)" opacity="0.77"/><ellipse cx="1611.7" cy="698.4" rx="1.6" ry="1.5" transform="rotate(202 1611.7 698.4)" fill="rgb(180,180,180)" opacity="0.67"/><ellipse cx="1600.8" cy="689.5" rx="1.6" ry="1.5" transform="rotate(223 1600.8 689.5)" fill="rgb(189,189,189)" opacity="0.72"/><ellipse cx="1628.6" cy="625.4" rx="3.1" ry="1.7" transform="rotate(4 1628.6 625.4)" fill="rgb(255,255,255)" opacity="1.00"/><ellipse cx="1606.5" cy="630.6" rx="1.9" ry="1.5" transform="rotate(-32 1606.5 630.6)" fill="rgb(147,147,147)" opacity="0.48"/><ellipse cx="1589.5" cy="635.3" rx="1.7" ry="1.5" transform="rotate(-53 1589.5 635.3)" fill="rgb(147,147,147)" opacity="0.48"/><ellipse cx="1592.4" cy="633.9" rx="1.5" ry="1.4" transform="rotate(-50 1592.4 633.9)" fill="rgb(139,139,139)" opacity="0.43"/><ellipse cx="1615.9" cy="627.3" rx="1.9" ry="1.3" transform="rotate(-16 1615.9 627.3)" fill="rgb(131,131,131)" opacity="0.39"/><ellipse cx="1634.7" cy="626.8" rx="1.9" ry="1.4" transform="rotate(13 1634.7 626.8)" fill="rgb(164,164,164)" opacity="0.58"/><ellipse cx="1647.9" cy="633.0" rx="2.3" ry="2.1" transform="rotate(36 1647.9 633.0)" fill="rgb(255,255,255)" opacity="1.00"/><ellipse cx="1643.7" cy="630.1" rx="1.8" ry="1.6" transform="rotate(28 1643.7 630.1)" fill="rgb(189,189,189)" opacity="0.72"/><ellipse cx="1653.6" cy="641.0" rx="2.0" ry="1.6" transform="rotate(52 1653.6 641.0)" fill="rgb(189,189,189)" opacity="0.72"/><ellipse cx="1658.8" cy="648.5" rx="1.9" ry="1.6" transform="rotate(67 1658.8 648.5)" fill="rgb(189,189,189)" opacity="0.72"/><ellipse cx="1659.7" cy="653.2" rx="2.0" ry="1.8" transform="rotate(74 1659.7 653.2)" fill="rgb(246,246,246)" opacity="1.00"/><ellipse cx="1660.6" cy="657.0" rx="1.8" ry="1.6" transform="rotate(81 1660.6 657.0)" fill="rgb(189,189,189)" opacity="0.72"/><ellipse cx="1661.1" cy="666.4" rx="2.1" ry="1.5" transform="rotate(96 1661.1 666.4)" fill="rgb(156,156,156)" opacity="0.53"/><ellipse cx="1658.3" cy="678.2" rx="1.9" ry="1.4" transform="rotate(116 1658.3 678.2)" fill="rgb(147,147,147)" opacity="0.48"/><ellipse cx="1656.9" cy="682.9" rx="1.8" ry="1.4" transform="rotate(124 1656.9 682.9)" fill="rgb(147,147,147)" opacity="0.48"/><ellipse cx="1653.1" cy="689.0" rx="2.5" ry="1.6" transform="rotate(135 1653.1 689.0)" fill="rgb(189,189,189)" opacity="0.72"/><ellipse cx="1640.4" cy="698.4" rx="2.6" ry="1.6" transform="rotate(159 1640.4 698.4)" fill="rgb(189,189,189)" opacity="0.72"/><ellipse cx="1646.0" cy="693.7" rx="1.9" ry="1.4" transform="rotate(148 1646.0 693.7)" fill="rgb(147,147,147)" opacity="0.48"/><ellipse cx="1627.2" cy="701.7" rx="2.5" ry="1.3" transform="rotate(179 1627.2 701.7)" fill="rgb(136,136,136)" opacity="0.42"/><ellipse cx="1619.7" cy="701.2" rx="2.2" ry="1.3" transform="rotate(190 1619.7 701.2)" fill="rgb(126,126,126)" opacity="0.36"/><ellipse cx="1591.9" cy="666.4" rx="1.7" ry="1.5" transform="rotate(264 1591.9 666.4)" fill="rgb(172,172,172)" opacity="0.62"/><ellipse cx="1661.6" cy="661.7" rx="1.8" ry="1.4" transform="rotate(89 1661.6 661.7)" fill="rgb(147,147,147)" opacity="0.48"/><ellipse cx="1650.8" cy="637.2" rx="1.7" ry="1.5" transform="rotate(44 1650.8 637.2)" fill="rgb(172,172,172)" opacity="0.62"/><ellipse cx="1656.4" cy="644.7" rx="1.7" ry="1.4" transform="rotate(59 1656.4 644.7)" fill="rgb(156,156,156)" opacity="0.53"/></g>
<ellipse cx="1623" cy="805.9" rx="35" ry="33.2" fill="none" stroke="#fff" stroke-width="6" opacity="0.22" filter="url(#bl2)"/>
<g filter="url(#bl3)"><ellipse cx="1623" cy="805.9" rx="35" ry="33.2" fill="none" stroke="#e6e6e6" stroke-width="2.0" opacity="0.5"/><path d="M1588.5,811.7 A35,33.2 0 0 1 1602.9,778.7" fill="none" stroke="#fff" stroke-width="3.0" opacity="0.6"/><circle cx="1599.3" cy="830.3" r="1.2" fill="#fff" opacity="0.98"/><circle cx="1625.0" cy="839.2" r="0.9" fill="#fff" opacity="0.77"/><circle cx="1619.0" cy="773.6" r="1.1" fill="#fff" opacity="0.85"/><circle cx="1658.4" cy="807.6" r="1.1" fill="#fff" opacity="0.75"/><circle cx="1595.7" cy="784.3" r="0.8" fill="#fff" opacity="0.75"/><circle cx="1656.8" cy="813.8" r="1.0" fill="#fff" opacity="0.51"/><circle cx="1612.7" cy="837.5" r="1.3" fill="#fff" opacity="0.96"/><circle cx="1598.9" cy="830.1" r="1.3" fill="#fff" opacity="0.97"/><circle cx="1657.1" cy="795.3" r="1.0" fill="#fff" opacity="0.58"/><circle cx="1654.2" cy="792.4" r="1.1" fill="#fff" opacity="0.87"/><circle cx="1588.8" cy="800.0" r="1.5" fill="#fff" opacity="0.65"/><circle cx="1589.3" cy="795.1" r="0.8" fill="#fff" opacity="0.68"/><circle cx="1587.9" cy="807.1" r="0.9" fill="#fff" opacity="0.73"/><circle cx="1654.9" cy="817.8" r="1.0" fill="#fff" opacity="0.57"/><circle cx="1656.9" cy="799.3" r="0.9" fill="#fff" opacity="0.89"/><circle cx="1621.1" cy="773.2" r="1.4" fill="#fff" opacity="0.81"/><circle cx="1596.1" cy="827.4" r="0.9" fill="#fff" opacity="0.63"/><circle cx="1647.9" cy="782.7" r="1.5" fill="#fff" opacity="0.59"/><circle cx="1645.2" cy="830.5" r="1.4" fill="#fff" opacity="0.78"/><circle cx="1657.1" cy="807.9" r="1.4" fill="#fff" opacity="0.75"/><circle cx="1646.6" cy="782.5" r="1.2" fill="#fff" opacity="0.56"/><circle cx="1616.6" cy="773.0" r="1.3" fill="#fff" opacity="0.61"/><circle cx="1655.6" cy="795.7" r="0.8" fill="#fff" opacity="0.84"/><circle cx="1651.6" cy="823.8" r="1.1" fill="#fff" opacity="0.82"/><circle cx="1650.6" cy="784.8" r="0.8" fill="#fff" opacity="0.82"/><circle cx="1642.0" cy="778.8" r="1.4" fill="#fff" opacity="0.63"/><circle cx="1612.7" cy="836.7" r="1.4" fill="#fff" opacity="0.76"/><circle cx="1651.5" cy="786.8" r="0.8" fill="#fff" opacity="0.61"/><circle cx="1620.0" cy="839.8" r="0.9" fill="#fff" opacity="0.54"/><circle cx="1602.4" cy="831.8" r="1.1" fill="#fff" opacity="0.81"/><circle cx="1602.9" cy="779.4" r="0.8" fill="#fff" opacity="0.75"/><circle cx="1609.6" cy="775.3" r="1.2" fill="#fff" opacity="0.96"/><circle cx="1644.2" cy="831.8" r="1.1" fill="#fff" opacity="0.77"/><circle cx="1651.4" cy="786.4" r="1.3" fill="#fff" opacity="0.71"/><circle cx="1630.6" cy="772.9" r="1.0" fill="#fff" opacity="0.55"/><circle cx="1621.0" cy="838.8" r="1.5" fill="#fff" opacity="0.63"/><circle cx="1598.8" cy="781.6" r="1.6" fill="#fff" opacity="0.56"/><circle cx="1627.3" cy="773.3" r="0.8" fill="#fff" opacity="0.82"/><circle cx="1642.6" cy="778.2" r="0.7" fill="#fff" opacity="0.99"/><circle cx="1596.7" cy="828.2" r="1.4" fill="#fff" opacity="0.63"/><circle cx="1593.9" cy="823.8" r="0.8" fill="#fff" opacity="0.53"/><circle cx="1615.8" cy="773.6" r="1.5" fill="#fff" opacity="0.53"/><circle cx="1612.1" cy="836.8" r="1.5" fill="#fff" opacity="0.90"/><circle cx="1650.8" cy="785.8" r="0.8" fill="#fff" opacity="0.71"/><circle cx="1628.1" cy="837.9" r="1.2" fill="#fff" opacity="0.64"/><circle cx="1650.3" cy="826.7" r="1.5" fill="#fff" opacity="0.97"/><circle cx="1589.5" cy="812.8" r="1.4" fill="#fff" opacity="0.56"/><circle cx="1589.7" cy="798.3" r="1.6" fill="#fff" opacity="0.77"/><circle cx="1591.0" cy="818.5" r="1.2" fill="#fff" opacity="0.99"/><circle cx="1592.0" cy="820.2" r="1.2" fill="#fff" opacity="0.96"/><circle cx="1597.0" cy="828.5" r="1.5" fill="#fff" opacity="0.66"/><circle cx="1636.1" cy="775.1" r="0.8" fill="#fff" opacity="0.53"/><circle cx="1655.4" cy="793.5" r="1.1" fill="#fff" opacity="0.96"/><circle cx="1591.7" cy="791.0" r="1.0" fill="#fff" opacity="0.87"/><circle cx="1621.6" cy="839.0" r="1.4" fill="#fff" opacity="0.80"/><circle cx="1645.9" cy="830.3" r="1.3" fill="#fff" opacity="0.86"/><circle cx="1651.7" cy="826.4" r="0.8" fill="#fff" opacity="0.58"/><circle cx="1652.5" cy="823.6" r="1.3" fill="#fff" opacity="0.93"/><circle cx="1641.3" cy="834.6" r="0.8" fill="#fff" opacity="0.79"/><circle cx="1622.6" cy="838.8" r="0.7" fill="#fff" opacity="0.86"/><circle cx="1648.5" cy="829.3" r="1.0" fill="#fff" opacity="0.80"/><circle cx="1600.5" cy="780.5" r="1.5" fill="#fff" opacity="0.96"/><circle cx="1616.1" cy="838.1" r="1.5" fill="#fff" opacity="0.57"/><circle cx="1592.5" cy="821.8" r="1.6" fill="#fff" opacity="0.56"/><circle cx="1603.1" cy="778.1" r="1.4" fill="#fff" opacity="0.50"/><circle cx="1655.5" cy="794.5" r="1.5" fill="#fff" opacity="0.83"/><circle cx="1591.7" cy="822.0" r="1.3" fill="#fff" opacity="0.67"/><circle cx="1619.0" cy="772.9" r="1.3" fill="#fff" opacity="0.81"/><circle cx="1632.8" cy="774.7" r="1.1" fill="#fff" opacity="0.50"/><circle cx="1632.0" cy="773.3" r="1.5" fill="#fff" opacity="0.52"/><circle cx="1588.9" cy="798.6" r="0.8" fill="#fff" opacity="0.60"/><circle cx="1658.2" cy="800.5" r="0.9" fill="#fff" opacity="0.91"/><circle cx="1602.7" cy="779.1" r="1.3" fill="#fff" opacity="0.61"/><circle cx="1617.9" cy="837.9" r="1.3" fill="#fff" opacity="0.79"/><circle cx="1621.6" cy="772.7" r="1.1" fill="#fff" opacity="0.65"/><circle cx="1619.8" cy="773.1" r="1.2" fill="#fff" opacity="0.88"/><circle cx="1589.8" cy="817.4" r="0.8" fill="#fff" opacity="0.63"/><circle cx="1641.5" cy="778.5" r="0.8" fill="#fff" opacity="0.51"/><circle cx="1626.5" cy="773.6" r="1.1" fill="#fff" opacity="0.72"/><circle cx="1634.4" cy="774.6" r="1.2" fill="#fff" opacity="0.51"/><circle cx="1633.0" cy="773.6" r="1.3" fill="#fff" opacity="0.92"/><circle cx="1596.3" cy="783.8" r="1.5" fill="#fff" opacity="0.81"/><circle cx="1658.4" cy="810.2" r="1.6" fill="#fff" opacity="0.60"/><circle cx="1654.8" cy="819.2" r="0.8" fill="#fff" opacity="0.68"/><circle cx="1652.2" cy="823.3" r="0.7" fill="#fff" opacity="0.71"/><circle cx="1612.1" cy="837.9" r="1.0" fill="#fff" opacity="0.58"/><circle cx="1657.2" cy="796.1" r="1.3" fill="#fff" opacity="0.61"/><circle cx="1594.4" cy="824.9" r="1.1" fill="#fff" opacity="0.51"/><circle cx="1588.9" cy="815.2" r="1.3" fill="#fff" opacity="0.93"/><circle cx="1608.5" cy="775.2" r="1.5" fill="#fff" opacity="0.96"/><circle cx="1632.3" cy="774.1" r="1.3" fill="#fff" opacity="0.83"/><circle cx="1649.2" cy="783.3" r="1.1" fill="#fff" opacity="0.60"/><circle cx="1606.8" cy="834.8" r="1.3" fill="#fff" opacity="0.88"/><circle cx="1635.5" cy="837.0" r="1.5" fill="#fff" opacity="0.68"/><circle cx="1652.1" cy="824.6" r="1.0" fill="#fff" opacity="0.57"/><circle cx="1614.9" cy="837.3" r="0.8" fill="#fff" opacity="0.71"/><circle cx="1650.0" cy="825.7" r="1.2" fill="#fff" opacity="0.98"/><circle cx="1640.5" cy="777.5" r="1.5" fill="#fff" opacity="0.54"/><circle cx="1643.0" cy="832.1" r="0.8" fill="#fff" opacity="0.80"/><circle cx="1624.5" cy="772.8" r="1.4" fill="#fff" opacity="0.73"/><circle cx="1653.7" cy="789.6" r="1.2" fill="#fff" opacity="0.59"/><circle cx="1591.8" cy="820.6" r="1.4" fill="#fff" opacity="0.61"/><circle cx="1613.2" cy="838.3" r="0.8" fill="#fff" opacity="0.77"/><circle cx="1629.7" cy="838.8" r="1.2" fill="#fff" opacity="0.55"/><circle cx="1618.7" cy="773.1" r="1.0" fill="#fff" opacity="0.93"/><circle cx="1629.2" cy="773.6" r="1.3" fill="#fff" opacity="0.56"/><circle cx="1589.0" cy="802.1" r="1.3" fill="#fff" opacity="0.96"/><circle cx="1600.6" cy="781.4" r="1.2" fill="#fff" opacity="0.73"/><circle cx="1590.8" cy="817.3" r="1.0" fill="#fff" opacity="0.72"/><circle cx="1654.8" cy="820.4" r="0.9" fill="#fff" opacity="0.65"/><circle cx="1652.2" cy="823.6" r="1.5" fill="#fff" opacity="0.65"/><circle cx="1651.6" cy="824.6" r="1.6" fill="#fff" opacity="0.54"/><circle cx="1604.1" cy="833.2" r="1.3" fill="#fff" opacity="0.73"/><circle cx="1652.1" cy="825.5" r="1.0" fill="#fff" opacity="0.84"/><circle cx="1588.9" cy="815.8" r="0.8" fill="#fff" opacity="0.61"/><circle cx="1615.3" cy="837.9" r="1.4" fill="#fff" opacity="0.75"/><circle cx="1603.0" cy="833.2" r="1.5" fill="#fff" opacity="0.78"/><circle cx="1589.3" cy="816.0" r="1.3" fill="#fff" opacity="0.70"/><circle cx="1592.3" cy="820.4" r="1.1" fill="#fff" opacity="0.94"/><circle cx="1611.0" cy="836.8" r="1.2" fill="#fff" opacity="0.80"/><circle cx="1638.8" cy="835.4" r="1.4" fill="#fff" opacity="0.52"/><circle cx="1650.5" cy="827.2" r="1.5" fill="#fff" opacity="0.53"/><circle cx="1653.7" cy="822.3" r="1.0" fill="#fff" opacity="0.83"/><circle cx="1657.1" cy="813.0" r="0.8" fill="#fff" opacity="0.67"/><circle cx="1610.8" cy="774.8" r="1.5" fill="#fff" opacity="0.92"/><circle cx="1596.9" cy="782.8" r="0.9" fill="#fff" opacity="0.74"/><circle cx="1608.1" cy="836.2" r="0.8" fill="#fff" opacity="0.94"/><circle cx="1598.6" cy="830.4" r="1.5" fill="#fff" opacity="0.97"/><circle cx="1595.5" cy="827.4" r="1.6" fill="#fff" opacity="0.57"/><circle cx="1622.4" cy="772.3" r="1.1" fill="#fff" opacity="0.64"/><circle cx="1639.1" cy="835.2" r="1.5" fill="#fff" opacity="0.70"/><circle cx="1621.8" cy="839.3" r="1.1" fill="#fff" opacity="0.81"/><circle cx="1589.8" cy="815.2" r="0.7" fill="#fff" opacity="0.91"/><circle cx="1604.3" cy="778.4" r="1.1" fill="#fff" opacity="0.79"/><circle cx="1587.3" cy="805.1" r="1.4" fill="#fff" opacity="0.65"/><circle cx="1604.4" cy="834.2" r="0.8" fill="#fff" opacity="0.97"/><circle cx="1656.6" cy="815.2" r="0.9" fill="#fff" opacity="0.76"/><circle cx="1656.1" cy="815.1" r="1.6" fill="#fff" opacity="0.89"/><circle cx="1629.3" cy="838.5" r="0.7" fill="#fff" opacity="0.56"/><circle cx="1635.8" cy="837.7" r="1.0" fill="#fff" opacity="0.62"/><circle cx="1654.4" cy="818.9" r="1.6" fill="#fff" opacity="0.87"/><circle cx="1654.2" cy="789.7" r="1.4" fill="#fff" opacity="0.63"/><circle cx="1639.8" cy="834.5" r="0.8" fill="#fff" opacity="0.59"/><circle cx="1616.4" cy="773.3" r="0.7" fill="#fff" opacity="0.65"/><circle cx="1643.9" cy="778.5" r="1.4" fill="#fff" opacity="0.87"/><circle cx="1652.8" cy="788.4" r="1.0" fill="#fff" opacity="0.79"/><circle cx="1616.1" cy="837.6" r="0.9" fill="#fff" opacity="0.73"/><circle cx="1647.9" cy="828.1" r="0.9" fill="#fff" opacity="0.68"/><circle cx="1656.7" cy="797.1" r="1.5" fill="#fff" opacity="0.87"/><circle cx="1594.0" cy="787.9" r="1.1" fill="#fff" opacity="0.66"/><circle cx="1599.3" cy="780.6" r="1.4" fill="#fff" opacity="0.65"/><circle cx="1643.1" cy="832.0" r="1.2" fill="#fff" opacity="0.61"/><circle cx="1657.6" cy="807.0" r="0.9" fill="#fff" opacity="0.60"/><circle cx="1605.0" cy="777.3" r="1.0" fill="#fff" opacity="0.87"/><circle cx="1632.7" cy="838.6" r="0.8" fill="#fff" opacity="0.80"/><circle cx="1613.1" cy="773.6" r="1.1" fill="#fff" opacity="0.94"/><circle cx="1598.7" cy="781.6" r="0.8" fill="#fff" opacity="0.59"/><circle cx="1588.7" cy="813.0" r="0.8" fill="#fff" opacity="0.87"/><circle cx="1603.1" cy="833.1" r="1.2" fill="#fff" opacity="0.92"/><circle cx="1611.7" cy="837.4" r="1.2" fill="#fff" opacity="0.83"/><circle cx="1609.8" cy="836.2" r="1.1" fill="#fff" opacity="0.80"/><circle cx="1601.9" cy="780.2" r="1.1" fill="#fff" opacity="0.78"/><circle cx="1634.7" cy="836.4" r="1.5" fill="#fff" opacity="0.51"/><circle cx="1588.4" cy="806.2" r="0.7" fill="#fff" opacity="0.63"/><circle cx="1641.4" cy="833.9" r="1.5" fill="#fff" opacity="0.54"/><circle cx="1601.9" cy="832.8" r="1.3" fill="#fff" opacity="0.51"/><circle cx="1627.6" cy="838.4" r="1.5" fill="#fff" opacity="0.72"/><circle cx="1621.3" cy="839.0" r="1.1" fill="#fff" opacity="0.57"/><circle cx="1605.4" cy="776.8" r="1.1" fill="#fff" opacity="0.77"/><circle cx="1627.6" cy="772.2" r="1.3" fill="#fff" opacity="0.52"/><circle cx="1587.7" cy="804.8" r="1.0" fill="#fff" opacity="0.84"/><circle cx="1599.3" cy="830.6" r="1.3" fill="#fff" opacity="0.84"/><circle cx="1654.6" cy="790.7" r="1.3" fill="#fff" opacity="0.85"/><circle cx="1627.3" cy="839.1" r="1.3" fill="#fff" opacity="0.53"/><circle cx="1623.9" cy="773.2" r="1.1" fill="#fff" opacity="0.76"/><circle cx="1616.8" cy="772.7" r="1.1" fill="#fff" opacity="0.97"/><circle cx="1590.1" cy="817.6" r="1.6" fill="#fff" opacity="0.66"/><circle cx="1615.0" cy="772.7" r="0.8" fill="#fff" opacity="0.89"/><circle cx="1602.7" cy="778.8" r="1.4" fill="#fff" opacity="0.93"/><circle cx="1644.2" cy="832.3" r="1.3" fill="#fff" opacity="0.85"/><circle cx="1657.3" cy="797.2" r="1.4" fill="#fff" opacity="0.53"/><circle cx="1591.0" cy="821.1" r="1.6" fill="#fff" opacity="0.88"/><circle cx="1605.2" cy="835.0" r="1.2" fill="#fff" opacity="0.83"/><circle cx="1599.8" cy="780.2" r="1.3" fill="#fff" opacity="0.99"/><circle cx="1588.0" cy="807.2" r="1.3" fill="#fff" opacity="0.78"/><circle cx="1657.1" cy="816.2" r="1.0" fill="#fff" opacity="0.75"/><circle cx="1656.2" cy="814.5" r="1.5" fill="#fff" opacity="0.64"/><circle cx="1612.3" cy="838.1" r="0.9" fill="#fff" opacity="0.83"/><circle cx="1590.5" cy="791.8" r="1.1" fill="#fff" opacity="0.66"/><circle cx="1621.0" cy="838.8" r="0.7" fill="#fff" opacity="0.56"/><path d="M1644.4,833.4 L1646.8,836.7" stroke="#fff" stroke-width="0.8" opacity="0.34"/><path d="M1656.6,793.7 L1660.6,792.2" stroke="#fff" stroke-width="0.8" opacity="0.19"/><path d="M1613.3,838.8 L1611.8,844.3" stroke="#fff" stroke-width="0.8" opacity="0.25"/><path d="M1649.6,828.9 L1653.4,832.4" stroke="#fff" stroke-width="0.8" opacity="0.20"/><path d="M1645.2,832.8 L1649.2,837.8" stroke="#fff" stroke-width="0.8" opacity="0.15"/><path d="M1589.6,818.6 L1583.7,821.0" stroke="#fff" stroke-width="0.8" opacity="0.27"/><path d="M1648.2,781.5 L1651.1,778.6" stroke="#fff" stroke-width="0.8" opacity="0.38"/><path d="M1657.7,815.2 L1664.4,817.0" stroke="#fff" stroke-width="0.8" opacity="0.24"/><path d="M1659.0,806.6 L1662.8,806.6" stroke="#fff" stroke-width="0.8" opacity="0.40"/><path d="M1615.4,772.5 L1614.1,766.4" stroke="#fff" stroke-width="0.8" opacity="0.35"/><path d="M1659.0,807.3 L1663.0,807.4" stroke="#fff" stroke-width="0.8" opacity="0.25"/><path d="M1653.3,787.4 L1659.2,783.6" stroke="#fff" stroke-width="0.8" opacity="0.16"/><path d="M1658.9,803.2 L1664.1,802.8" stroke="#fff" stroke-width="0.8" opacity="0.21"/><path d="M1654.2,822.9 L1658.3,825.2" stroke="#fff" stroke-width="0.8" opacity="0.27"/><path d="M1588.5,815.8 L1584.6,816.9" stroke="#fff" stroke-width="0.8" opacity="0.39"/><path d="M1587.4,811.2 L1583.4,811.8" stroke="#fff" stroke-width="0.8" opacity="0.34"/><path d="M1624.3,840.1 L1624.5,844.7" stroke="#fff" stroke-width="0.8" opacity="0.15"/><path d="M1625.7,840.0 L1626.3,847.5" stroke="#fff" stroke-width="0.8" opacity="0.29"/><path d="M1587.4,800.8 L1581.6,800.0" stroke="#fff" stroke-width="0.8" opacity="0.31"/><path d="M1587.3,801.3 L1583.0,800.8" stroke="#fff" stroke-width="0.8" opacity="0.16"/><path d="M1658.4,812.2 L1661.4,812.8" stroke="#fff" stroke-width="0.8" opacity="0.23"/><path d="M1658.9,808.1 L1664.8,808.5" stroke="#fff" stroke-width="0.8" opacity="0.21"/><path d="M1626.7,839.9 L1627.1,844.0" stroke="#fff" stroke-width="0.8" opacity="0.26"/><path d="M1632.0,839.0 L1633.7,845.5" stroke="#fff" stroke-width="0.8" opacity="0.26"/><path d="M1655.7,820.2 L1658.4,821.4" stroke="#fff" stroke-width="0.8" opacity="0.37"/><path d="M1591.3,789.8 L1587.8,787.9" stroke="#fff" stroke-width="0.8" opacity="0.32"/><path d="M1657.5,815.6 L1664.2,817.6" stroke="#fff" stroke-width="0.8" opacity="0.38"/><path d="M1604.5,776.5 L1603.1,774.2" stroke="#fff" stroke-width="0.8" opacity="0.24"/><path d="M1641.7,776.7 L1644.5,772.0" stroke="#fff" stroke-width="0.8" opacity="0.18"/><path d="M1626.5,839.9 L1626.8,842.7" stroke="#fff" stroke-width="0.8" opacity="0.27"/><path d="M1638.0,837.0 L1640.0,841.3" stroke="#fff" stroke-width="0.8" opacity="0.37"/><path d="M1652.2,785.9 L1656.3,783.1" stroke="#fff" stroke-width="0.8" opacity="0.34"/><path d="M1647.0,831.4 L1651.8,836.8" stroke="#fff" stroke-width="0.8" opacity="0.36"/><path d="M1587.2,809.6 L1580.3,810.4" stroke="#fff" stroke-width="0.8" opacity="0.20"/><path d="M1658.7,801.7 L1662.8,801.2" stroke="#fff" stroke-width="0.8" opacity="0.38"/><path d="M1641.7,776.7 L1645.5,770.6" stroke="#fff" stroke-width="0.8" opacity="0.32"/><path d="M1655.2,821.1 L1658.7,822.8" stroke="#fff" stroke-width="0.8" opacity="0.30"/><path d="M1653.2,787.3 L1658.2,784.1" stroke="#fff" stroke-width="0.8" opacity="0.13"/><path d="M1602.3,833.9 L1599.8,837.3" stroke="#fff" stroke-width="0.8" opacity="0.17"/><path d="M1628.6,839.7 L1629.4,844.7" stroke="#fff" stroke-width="0.8" opacity="0.22"/><path d="M1619.2,839.9 L1618.7,844.4" stroke="#fff" stroke-width="0.8" opacity="0.39"/><path d="M1593.4,786.4 L1588.3,782.8" stroke="#fff" stroke-width="0.8" opacity="0.38"/><path d="M1658.3,812.5 L1665.1,813.8" stroke="#fff" stroke-width="0.8" opacity="0.15"/><path d="M1634.9,838.2 L1637.0,844.0" stroke="#fff" stroke-width="0.8" opacity="0.33"/><path d="M1596.0,783.3 L1592.3,780.1" stroke="#fff" stroke-width="0.8" opacity="0.32"/><path d="M1590.6,820.9 L1587.5,822.4" stroke="#fff" stroke-width="0.8" opacity="0.18"/><path d="M1648.8,826.8 L1647.2,825.5" stroke="#fff" stroke-width="0.8" opacity="0.21"/><path d="M1655.3,796.0 L1652.4,796.9" stroke="#fff" stroke-width="0.8" opacity="0.14"/><path d="M1616.9,837.6 L1617.7,833.3" stroke="#fff" stroke-width="0.8" opacity="0.15"/><path d="M1639.3,834.2 L1637.1,830.1" stroke="#fff" stroke-width="0.8" opacity="0.21"/><path d="M1655.6,815.2 L1652.3,814.2" stroke="#fff" stroke-width="0.8" opacity="0.11"/><path d="M1601.2,781.2 L1603.2,783.6" stroke="#fff" stroke-width="0.8" opacity="0.12"/><path d="M1612.0,836.4 L1613.2,832.8" stroke="#fff" stroke-width="0.8" opacity="0.15"/><path d="M1589.1,808.4 L1593.1,808.1" stroke="#fff" stroke-width="0.8" opacity="0.15"/><path d="M1655.1,795.3 L1652.0,796.4" stroke="#fff" stroke-width="0.8" opacity="0.19"/><path d="M1653.8,792.3 L1650.3,793.9" stroke="#fff" stroke-width="0.8" opacity="0.16"/><path d="M1631.4,774.7 L1630.4,778.7" stroke="#fff" stroke-width="0.8" opacity="0.11"/><path d="M1593.5,822.0 L1595.7,820.7" stroke="#fff" stroke-width="0.8" opacity="0.08"/><path d="M1609.9,776.2 L1611.1,778.9" stroke="#fff" stroke-width="0.8" opacity="0.12"/><path d="M1656.5,811.1 L1654.5,810.8" stroke="#fff" stroke-width="0.8" opacity="0.17"/><path d="M1601.7,831.0 L1603.8,828.4" stroke="#fff" stroke-width="0.8" opacity="0.17"/><path d="M1651.4,788.2 L1648.0,790.5" stroke="#fff" stroke-width="0.8" opacity="0.11"/><path d="M1656.9,803.7 L1654.4,803.9" stroke="#fff" stroke-width="0.8" opacity="0.16"/><path d="M1602.0,780.6 L1603.8,782.8" stroke="#fff" stroke-width="0.8" opacity="0.20"/><path d="M1596.8,785.4 L1600.0,788.0" stroke="#fff" stroke-width="0.8" opacity="0.10"/><path d="M1639.8,777.9 L1638.4,780.4" stroke="#fff" stroke-width="0.8" opacity="0.17"/><path d="M1620.2,773.8 L1620.5,776.8" stroke="#fff" stroke-width="0.8" opacity="0.12"/><path d="M1606.5,834.1 L1608.9,829.8" stroke="#fff" stroke-width="0.8" opacity="0.17"/><path d="M1589.6,811.7 L1593.2,811.0" stroke="#fff" stroke-width="0.8" opacity="0.17"/><path d="M1620.4,838.0 L1620.6,835.8" stroke="#fff" stroke-width="0.8" opacity="0.10"/><path d="M1593.4,790.0 L1596.7,791.9" stroke="#fff" stroke-width="0.8" opacity="0.22"/><path d="M1598.4,783.7 L1601.7,786.9" stroke="#fff" stroke-width="0.8" opacity="0.22"/><path d="M1589.0,806.6 L1592.3,806.5" stroke="#fff" stroke-width="0.8" opacity="0.15"/><path d="M1599.5,829.1 L1602.4,826.0" stroke="#fff" stroke-width="0.8" opacity="0.16"/><path d="M1647.4,828.3 L1643.9,824.9" stroke="#fff" stroke-width="0.8" opacity="0.15"/><path d="M1622.7,773.7 L1622.8,777.3" stroke="#fff" stroke-width="0.8" opacity="0.16"/><path d="M1555.6,784.7 L1608.4,838.9" stroke="#fff" stroke-width="1.5" opacity="0.5" stroke-dasharray="4,1.6,2.5,1.2"/><path d="M1556.5,785.6 L1561.5,790.8" stroke="#fff" stroke-width="2.4" opacity="0.8" stroke-linecap="round"/><path d="M1598,828 L1608.4,838.9" stroke="#fff" stroke-width="2.2" opacity="0.75"/><path d="M1608.4,838.9 L1619.4,850.3" stroke="#fff" stroke-width="4.8" opacity="1" stroke-linecap="round"/><circle cx="1586.3" cy="785.2" r="1.9" fill="#fff" opacity="0.85"/><circle cx="1577.8" cy="777.2" r="1.1" fill="#fff" opacity="0.5"/><circle cx="1662" cy="773" r="0.9" fill="#fff" opacity="0.3"/><path d="M1679.5,745.8 L1693.6,760.2" stroke="#fff" stroke-width="1.2" opacity="0.4" stroke-dasharray="2.5,1.5"/><path d="M1575.4,872.6 L1582,875.8" stroke="#fff" stroke-width="2.8" opacity="0.9" stroke-linecap="round"/></g>
<text x="1630" y="725.5" font-size="25.3" font-family="Liberation Serif, serif" text-anchor="middle" fill="#fff" textLength="124.6" lengthAdjust="spacingAndGlyphs" >1571.05 nm</text>
<text x="1627.2" y="868.6" font-size="25.3" font-family="Liberation Serif, serif" text-anchor="middle" fill="#fff" textLength="125.6" lengthAdjust="spacingAndGlyphs" >785.525 nm</text>
<rect x="1260.3" y="1020.3" width="491.0" height="366.5" fill="none" stroke="#000" stroke-width="2.2"/>
<path d="M1330.5,1386.8 v-8" stroke="#000" stroke-width="2.2"/>
<path d="M1400.6,1386.8 v-8" stroke="#000" stroke-width="2.2"/>
<path d="M1470.8,1386.8 v-8" stroke="#000" stroke-width="2.2"/>
<path d="M1540.9,1386.8 v-8" stroke="#000" stroke-width="2.2"/>
<path d="M1611.0,1386.8 v-8" stroke="#000" stroke-width="2.2"/>
<path d="M1681.2,1386.8 v-8" stroke="#000" stroke-width="2.2"/>
<text x="1256.1000000000001" y="1425.3" font-size="34" font-family="Liberation Serif, serif" text-anchor="middle" fill="#000" >0</text>
<text x="1326.8" y="1425.3" font-size="34" font-family="Liberation Serif, serif" text-anchor="middle" fill="#000" >100</text>
<text x="1402.2" y="1425.3" font-size="34" font-family="Liberation Serif, serif" text-anchor="middle" fill="#000" >200</text>
<text x="1477.5" y="1425.3" font-size="34" font-family="Liberation Serif, serif" text-anchor="middle" fill="#000" >300</text>
<text x="1544.0" y="1425.3" font-size="34" font-family="Liberation Serif, serif" text-anchor="middle" fill="#000" >400</text>
<text x="1612.1000000000001" y="1425.3" font-size="34" font-family="Liberation Serif, serif" text-anchor="middle" fill="#000" >500</text>
<text x="1682.1000000000001" y="1425.3" font-size="34" font-family="Liberation Serif, serif" text-anchor="middle" fill="#000" >600</text>
<text x="1755.6000000000001" y="1425.3" font-size="34" font-family="Liberation Serif, serif" text-anchor="middle" fill="#000" >700</text>
<path d="M1260.3,1039.6 h8.5" stroke="#000" stroke-width="2.2"/>
<path d="M1260.3,1078.7 h8.5" stroke="#000" stroke-width="2.2"/>
<path d="M1260.3,1117 h8.5" stroke="#000" stroke-width="2.2"/>
<path d="M1260.3,1155.3 h8.5" stroke="#000" stroke-width="2.2"/>
<path d="M1260.3,1193.6 h8.5" stroke="#000" stroke-width="2.2"/>
<path d="M1260.3,1232.2 h8.5" stroke="#000" stroke-width="2.2"/>
<path d="M1260.3,1270.7 h8.5" stroke="#000" stroke-width="2.2"/>
<path d="M1260.3,1309 h8.5" stroke="#000" stroke-width="2.2"/>
<path d="M1260.3,1347.9 h8.5" stroke="#000" stroke-width="2.2"/>
<text x="1245.5" y="1050.8" font-size="34" font-family="Liberation Serif, serif" text-anchor="end" fill="#000" >20</text>
<text x="1245.5" y="1088.5" font-size="34" font-family="Liberation Serif, serif" text-anchor="end" fill="#000" >18</text>
<text x="1245.5" y="1126.5" font-size="34" font-family="Liberation Serif, serif" text-anchor="end" fill="#000" >16</text>
<text x="1245.5" y="1168.5" font-size="34" font-family="Liberation Serif, serif" text-anchor="end" fill="#000" >14</text>
<text x="1245.5" y="1206.2" font-size="34" font-family="Liberation Serif, serif" text-anchor="end" fill="#000" >12</text>
<text x="1245.5" y="1243.2" font-size="34" font-family="Liberation Serif, serif" text-anchor="end" fill="#000" >10</text>
<text x="1245.5" y="1281.2" font-size="34" font-family="Liberation Serif, serif" text-anchor="end" fill="#000" >8</text>
<text x="1245.5" y="1317.5" font-size="34" font-family="Liberation Serif, serif" text-anchor="end" fill="#000" >6</text>
<text x="1245.5" y="1361.6" font-size="34" font-family="Liberation Serif, serif" text-anchor="end" fill="#000" >4</text>
<text x="1245.5" y="1393.6" font-size="34" font-family="Liberation Serif, serif" text-anchor="end" fill="#000" >2</text>
<text transform="translate(1160.4,1193.5) rotate(-90)" font-size="35" font-family="Liberation Serif, serif" text-anchor="middle" xml:space="preserve" style="white-space:pre" textLength="222" lengthAdjust="spacingAndGlyphs">SH power (nW)</text>
<text x="1509.7" y="1476.1" font-size="34.2" font-family="Liberation Serif, serif" text-anchor="middle" fill="#000" >The square of the power of the FW (μW²)</text>
<path d="M1302.7,1361.2 L1714.5,1059.8" stroke="#e2131b" stroke-width="4.6" fill="none" stroke-linecap="round"/>
<circle cx="1302.7" cy="1348" r="5.8" fill="#000"/>
<circle cx="1346" cy="1324.3" r="5.8" fill="#000"/>
<circle cx="1424.4" cy="1291.9" r="5.8" fill="#000"/>
<circle cx="1554.7" cy="1192.1" r="5.8" fill="#000"/>
<circle cx="1612" cy="1122.7" r="5.8" fill="#000"/>
<circle cx="1714.5" cy="1054.9" r="5.8" fill="#000"/>
<text transform="translate(1312.5,1300) rotate(-37.5)" font-size="38" font-family="Liberation Serif, serif" textLength="396" lengthAdjust="spacingAndGlyphs">Slope : 0.027 ± 0.0016 mW<tspan font-size="23" dy="-15">-1</tspan></text>
<circle cx="1544.6" cy="1325.4" r="5.8" fill="#000"/>
<text x="1571" y="1331" font-size="26.5" font-family="Liberation Serif, serif" text-anchor="start" fill="#000" textLength="163" lengthAdjust="spacingAndGlyphs" >Measured data</text>
<path d="M1524,1359.3 H1564.5" stroke="#e2131b" stroke-width="4.6"/>
<text x="1571" y="1365" font-size="26.5" font-family="Liberation Serif, serif" text-anchor="start" fill="#000" textLength="133.5" lengthAdjust="spacingAndGlyphs" >Fitted curve</text>
</svg>
</body></html>
